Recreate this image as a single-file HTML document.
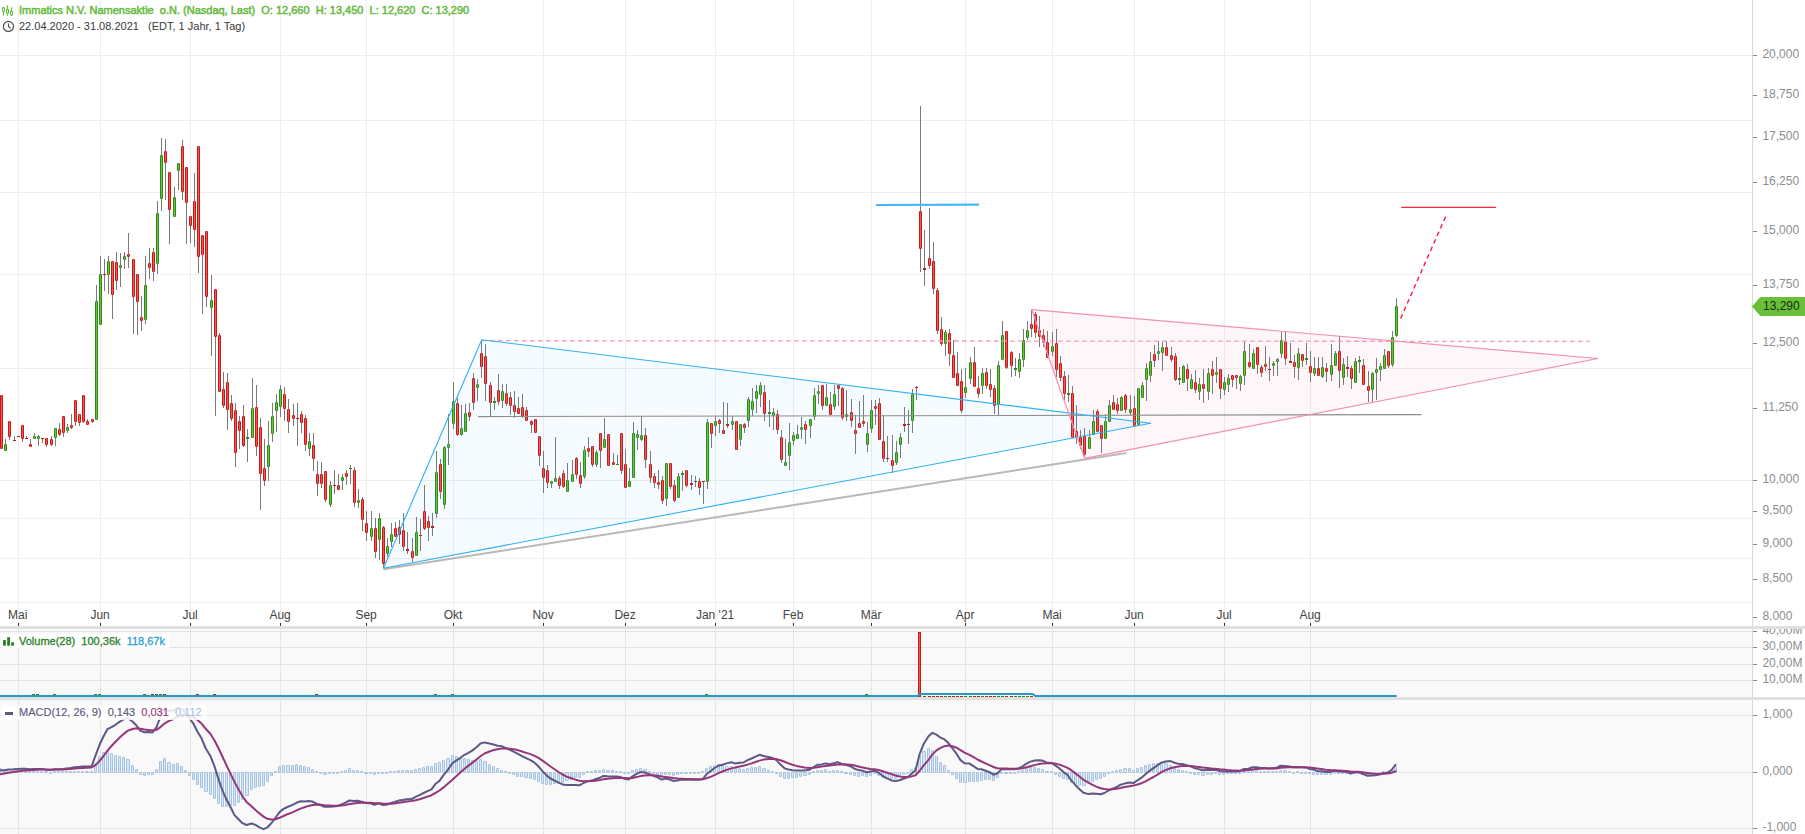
<!DOCTYPE html>
<html lang="de"><head><meta charset="utf-8"><title>Immatics N.V. Chart</title>
<style>html,body{margin:0;padding:0;background:#fff;overflow:hidden}body{width:1805px;height:834px}</style></head>
<body>
<svg width="1805" height="834" viewBox="0 0 1805 834" style="display:block;font-family:'Liberation Sans',Arial,sans-serif">
<rect width="1805" height="834" fill="#fff"/>
<rect x="0" y="629" width="1752" height="68" fill="#f9f9f9"/>
<rect x="0" y="700" width="1752" height="134" fill="#f9f9f9"/>
<g shape-rendering="crispEdges">
<rect x="18" y="0" width="1" height="626" fill="#eeeeee"/>
<rect x="18" y="629" width="1" height="68" fill="#e4e4e4"/>
<rect x="18" y="700" width="1" height="134" fill="#e4e4e4"/>
<rect x="100" y="0" width="1" height="626" fill="#eeeeee"/>
<rect x="100" y="629" width="1" height="68" fill="#e4e4e4"/>
<rect x="100" y="700" width="1" height="134" fill="#e4e4e4"/>
<rect x="190" y="0" width="1" height="626" fill="#eeeeee"/>
<rect x="190" y="629" width="1" height="68" fill="#e4e4e4"/>
<rect x="190" y="700" width="1" height="134" fill="#e4e4e4"/>
<rect x="280" y="0" width="1" height="626" fill="#eeeeee"/>
<rect x="280" y="629" width="1" height="68" fill="#e4e4e4"/>
<rect x="280" y="700" width="1" height="134" fill="#e4e4e4"/>
<rect x="366" y="0" width="1" height="626" fill="#eeeeee"/>
<rect x="366" y="629" width="1" height="68" fill="#e4e4e4"/>
<rect x="366" y="700" width="1" height="134" fill="#e4e4e4"/>
<rect x="453" y="0" width="1" height="626" fill="#eeeeee"/>
<rect x="453" y="629" width="1" height="68" fill="#e4e4e4"/>
<rect x="453" y="700" width="1" height="134" fill="#e4e4e4"/>
<rect x="543" y="0" width="1" height="626" fill="#eeeeee"/>
<rect x="543" y="629" width="1" height="68" fill="#e4e4e4"/>
<rect x="543" y="700" width="1" height="134" fill="#e4e4e4"/>
<rect x="625" y="0" width="1" height="626" fill="#eeeeee"/>
<rect x="625" y="629" width="1" height="68" fill="#e4e4e4"/>
<rect x="625" y="700" width="1" height="134" fill="#e4e4e4"/>
<rect x="715" y="0" width="1" height="626" fill="#eeeeee"/>
<rect x="715" y="629" width="1" height="68" fill="#e4e4e4"/>
<rect x="715" y="700" width="1" height="134" fill="#e4e4e4"/>
<rect x="793" y="0" width="1" height="626" fill="#eeeeee"/>
<rect x="793" y="629" width="1" height="68" fill="#e4e4e4"/>
<rect x="793" y="700" width="1" height="134" fill="#e4e4e4"/>
<rect x="871" y="0" width="1" height="626" fill="#eeeeee"/>
<rect x="871" y="629" width="1" height="68" fill="#e4e4e4"/>
<rect x="871" y="700" width="1" height="134" fill="#e4e4e4"/>
<rect x="965" y="0" width="1" height="626" fill="#eeeeee"/>
<rect x="965" y="629" width="1" height="68" fill="#e4e4e4"/>
<rect x="965" y="700" width="1" height="134" fill="#e4e4e4"/>
<rect x="1052" y="0" width="1" height="626" fill="#eeeeee"/>
<rect x="1052" y="629" width="1" height="68" fill="#e4e4e4"/>
<rect x="1052" y="700" width="1" height="134" fill="#e4e4e4"/>
<rect x="1134" y="0" width="1" height="626" fill="#eeeeee"/>
<rect x="1134" y="629" width="1" height="68" fill="#e4e4e4"/>
<rect x="1134" y="700" width="1" height="134" fill="#e4e4e4"/>
<rect x="1224" y="0" width="1" height="626" fill="#eeeeee"/>
<rect x="1224" y="629" width="1" height="68" fill="#e4e4e4"/>
<rect x="1224" y="700" width="1" height="134" fill="#e4e4e4"/>
<rect x="1310" y="0" width="1" height="626" fill="#eeeeee"/>
<rect x="1310" y="629" width="1" height="68" fill="#e4e4e4"/>
<rect x="1310" y="700" width="1" height="134" fill="#e4e4e4"/>
<rect x="0" y="55" width="1752" height="1" fill="#eeeeee"/>
<rect x="0" y="120" width="1752" height="1" fill="#eeeeee"/>
<rect x="0" y="192" width="1752" height="1" fill="#eeeeee"/>
<rect x="0" y="274" width="1752" height="1" fill="#eeeeee"/>
<rect x="0" y="368" width="1752" height="1" fill="#eeeeee"/>
<rect x="0" y="480" width="1752" height="1" fill="#eeeeee"/>
<rect x="0" y="518" width="1752" height="1" fill="#eeeeee"/>
<rect x="0" y="558" width="1752" height="1" fill="#eeeeee"/>
<rect x="0" y="602" width="1752" height="1" fill="#eeeeee"/>
<rect x="0" y="631" width="1752" height="1" fill="#e2e2e2"/>
<rect x="0" y="647" width="1752" height="1" fill="#e2e2e2"/>
<rect x="0" y="664" width="1752" height="1" fill="#e2e2e2"/>
<rect x="0" y="680" width="1752" height="1" fill="#e2e2e2"/>
<rect x="0" y="715" width="1752" height="1" fill="#e2e2e2"/>
<rect x="0" y="772" width="1752" height="1" fill="#e2e2e2"/>
<rect x="0" y="828" width="1752" height="1" fill="#e2e2e2"/>
</g>
<g shape-rendering="crispEdges" fill="#7a7a7a"><rect x="1" y="395" width="1" height="53"/><rect x="5" y="439" width="1" height="12"/><rect x="9" y="421" width="1" height="19"/><rect x="14" y="436" width="1" height="4"/><rect x="22" y="425" width="1" height="17"/><rect x="26" y="436" width="1" height="2"/><rect x="30" y="439" width="1" height="8"/><rect x="34" y="433" width="1" height="5"/><rect x="38" y="435" width="1" height="11"/><rect x="42" y="438" width="1" height="5"/><rect x="46" y="438" width="1" height="9"/><rect x="51" y="436" width="1" height="10"/><rect x="55" y="428" width="1" height="18"/><rect x="59" y="423" width="1" height="13"/><rect x="63" y="416" width="1" height="21"/><rect x="67" y="424" width="1" height="9"/><rect x="71" y="414" width="1" height="15"/><rect x="75" y="400" width="1" height="26"/><rect x="79" y="414" width="1" height="12"/><rect x="83" y="395" width="1" height="28"/><rect x="87" y="419" width="1" height="6"/><rect x="92" y="419" width="1" height="4"/><rect x="96" y="285" width="1" height="135"/><rect x="100" y="256" width="1" height="69"/><rect x="104" y="259" width="1" height="32"/><rect x="108" y="256" width="1" height="38"/><rect x="112" y="261" width="1" height="58"/><rect x="116" y="252" width="1" height="38"/><rect x="120" y="253" width="1" height="34"/><rect x="124" y="252" width="1" height="17"/><rect x="128" y="233" width="1" height="35"/><rect x="133" y="259" width="1" height="75"/><rect x="137" y="274" width="1" height="61"/><rect x="141" y="296" width="1" height="35"/><rect x="145" y="256" width="1" height="68"/><rect x="149" y="248" width="1" height="31"/><rect x="153" y="248" width="1" height="33"/><rect x="157" y="201" width="1" height="73"/><rect x="161" y="138" width="1" height="73"/><rect x="165" y="139" width="1" height="61"/><rect x="169" y="172" width="1" height="72"/><rect x="174" y="187" width="1" height="30"/><rect x="178" y="163" width="1" height="27"/><rect x="182" y="140" width="1" height="60"/><rect x="186" y="167" width="1" height="77"/><rect x="190" y="216" width="1" height="27"/><rect x="194" y="173" width="1" height="74"/><rect x="198" y="146" width="1" height="127"/><rect x="202" y="235" width="1" height="79"/><rect x="206" y="231" width="1" height="76"/><rect x="211" y="275" width="1" height="81"/><rect x="215" y="289" width="1" height="127"/><rect x="219" y="333" width="1" height="59"/><rect x="223" y="372" width="1" height="36"/><rect x="227" y="373" width="1" height="57"/><rect x="231" y="395" width="1" height="26"/><rect x="235" y="403" width="1" height="64"/><rect x="239" y="416" width="1" height="33"/><rect x="243" y="405" width="1" height="42"/><rect x="247" y="429" width="1" height="33"/><rect x="252" y="378" width="1" height="60"/><rect x="256" y="385" width="1" height="71"/><rect x="260" y="418" width="1" height="92"/><rect x="264" y="439" width="1" height="47"/><rect x="268" y="421" width="1" height="60"/><rect x="272" y="403" width="1" height="39"/><rect x="276" y="394" width="1" height="38"/><rect x="280" y="385" width="1" height="32"/><rect x="284" y="387" width="1" height="34"/><rect x="288" y="399" width="1" height="34"/><rect x="293" y="404" width="1" height="22"/><rect x="297" y="403" width="1" height="43"/><rect x="301" y="411" width="1" height="22"/><rect x="305" y="415" width="1" height="36"/><rect x="309" y="433" width="1" height="23"/><rect x="313" y="433" width="1" height="38"/><rect x="317" y="461" width="1" height="35"/><rect x="321" y="462" width="1" height="26"/><rect x="325" y="471" width="1" height="31"/><rect x="330" y="481" width="1" height="26"/><rect x="334" y="470" width="1" height="24"/><rect x="338" y="474" width="1" height="16"/><rect x="342" y="474" width="1" height="16"/><rect x="346" y="470" width="1" height="15"/><rect x="350" y="465" width="1" height="19"/><rect x="354" y="467" width="1" height="40"/><rect x="358" y="489" width="1" height="19"/><rect x="362" y="497" width="1" height="34"/><rect x="366" y="511" width="1" height="30"/><rect x="371" y="511" width="1" height="30"/><rect x="375" y="518" width="1" height="40"/><rect x="379" y="513" width="1" height="47"/><rect x="383" y="526" width="1" height="42"/><rect x="387" y="538" width="1" height="19"/><rect x="391" y="523" width="1" height="24"/><rect x="395" y="522" width="1" height="15"/><rect x="399" y="520" width="1" height="24"/><rect x="403" y="513" width="1" height="38"/><rect x="407" y="532" width="1" height="22"/><rect x="412" y="538" width="1" height="24"/><rect x="416" y="517" width="1" height="39"/><rect x="420" y="519" width="1" height="32"/><rect x="424" y="485" width="1" height="45"/><rect x="428" y="516" width="1" height="25"/><rect x="432" y="513" width="1" height="23"/><rect x="436" y="451" width="1" height="67"/><rect x="440" y="459" width="1" height="40"/><rect x="444" y="446" width="1" height="63"/><rect x="448" y="414" width="1" height="51"/><rect x="453" y="382" width="1" height="47"/><rect x="457" y="398" width="1" height="38"/><rect x="461" y="405" width="1" height="31"/><rect x="465" y="404" width="1" height="28"/><rect x="469" y="403" width="1" height="18"/><rect x="473" y="373" width="1" height="37"/><rect x="477" y="379" width="1" height="22"/><rect x="481" y="340" width="1" height="38"/><rect x="485" y="344" width="1" height="57"/><rect x="490" y="382" width="1" height="34"/><rect x="494" y="397" width="1" height="13"/><rect x="498" y="374" width="1" height="31"/><rect x="502" y="384" width="1" height="24"/><rect x="506" y="384" width="1" height="22"/><rect x="510" y="392" width="1" height="23"/><rect x="514" y="391" width="1" height="27"/><rect x="518" y="397" width="1" height="17"/><rect x="522" y="394" width="1" height="24"/><rect x="526" y="407" width="1" height="14"/><rect x="531" y="420" width="1" height="13"/><rect x="535" y="419" width="1" height="14"/><rect x="539" y="436" width="1" height="30"/><rect x="543" y="451" width="1" height="42"/><rect x="547" y="465" width="1" height="23"/><rect x="551" y="481" width="1" height="7"/><rect x="555" y="437" width="1" height="45"/><rect x="559" y="476" width="1" height="13"/><rect x="563" y="470" width="1" height="18"/><rect x="567" y="463" width="1" height="28"/><rect x="572" y="460" width="1" height="21"/><rect x="576" y="457" width="1" height="22"/><rect x="580" y="462" width="1" height="26"/><rect x="584" y="446" width="1" height="33"/><rect x="588" y="437" width="1" height="20"/><rect x="592" y="446" width="1" height="21"/><rect x="596" y="450" width="1" height="17"/><rect x="600" y="433" width="1" height="35"/><rect x="604" y="418" width="1" height="30"/><rect x="608" y="434" width="1" height="32"/><rect x="613" y="453" width="1" height="12"/><rect x="617" y="455" width="1" height="10"/><rect x="621" y="433" width="1" height="41"/><rect x="625" y="449" width="1" height="39"/><rect x="629" y="468" width="1" height="19"/><rect x="633" y="422" width="1" height="56"/><rect x="637" y="430" width="1" height="20"/><rect x="641" y="416" width="1" height="25"/><rect x="645" y="428" width="1" height="40"/><rect x="650" y="451" width="1" height="32"/><rect x="654" y="473" width="1" height="15"/><rect x="658" y="470" width="1" height="19"/><rect x="662" y="476" width="1" height="28"/><rect x="666" y="463" width="1" height="43"/><rect x="670" y="463" width="1" height="26"/><rect x="674" y="480" width="1" height="22"/><rect x="678" y="473" width="1" height="25"/><rect x="682" y="471" width="1" height="20"/><rect x="686" y="470" width="1" height="17"/><rect x="691" y="475" width="1" height="15"/><rect x="695" y="476" width="1" height="11"/><rect x="699" y="478" width="1" height="17"/><rect x="703" y="481" width="1" height="23"/><rect x="707" y="419" width="1" height="70"/><rect x="711" y="423" width="1" height="25"/><rect x="715" y="416" width="1" height="20"/><rect x="719" y="419" width="1" height="14"/><rect x="723" y="402" width="1" height="32"/><rect x="727" y="403" width="1" height="25"/><rect x="732" y="416" width="1" height="14"/><rect x="736" y="421" width="1" height="29"/><rect x="740" y="424" width="1" height="22"/><rect x="744" y="423" width="1" height="10"/><rect x="748" y="397" width="1" height="30"/><rect x="752" y="388" width="1" height="28"/><rect x="756" y="385" width="1" height="28"/><rect x="760" y="382" width="1" height="25"/><rect x="764" y="385" width="1" height="36"/><rect x="769" y="400" width="1" height="27"/><rect x="773" y="408" width="1" height="22"/><rect x="777" y="410" width="1" height="24"/><rect x="781" y="430" width="1" height="33"/><rect x="785" y="439" width="1" height="27"/><rect x="789" y="423" width="1" height="47"/><rect x="793" y="432" width="1" height="13"/><rect x="797" y="425" width="1" height="14"/><rect x="801" y="417" width="1" height="22"/><rect x="805" y="421" width="1" height="23"/><rect x="810" y="419" width="1" height="19"/><rect x="814" y="388" width="1" height="32"/><rect x="818" y="385" width="1" height="19"/><rect x="822" y="385" width="1" height="25"/><rect x="826" y="384" width="1" height="22"/><rect x="830" y="392" width="1" height="23"/><rect x="834" y="385" width="1" height="25"/><rect x="838" y="385" width="1" height="21"/><rect x="842" y="387" width="1" height="33"/><rect x="846" y="390" width="1" height="31"/><rect x="851" y="399" width="1" height="28"/><rect x="855" y="415" width="1" height="39"/><rect x="859" y="401" width="1" height="27"/><rect x="863" y="395" width="1" height="32"/><rect x="867" y="422" width="1" height="30"/><rect x="871" y="400" width="1" height="33"/><rect x="875" y="400" width="1" height="25"/><rect x="879" y="398" width="1" height="42"/><rect x="883" y="415" width="1" height="47"/><rect x="887" y="436" width="1" height="26"/><rect x="892" y="435" width="1" height="38"/><rect x="896" y="441" width="1" height="24"/><rect x="900" y="433" width="1" height="25"/><rect x="904" y="407" width="1" height="25"/><rect x="908" y="410" width="1" height="34"/><rect x="912" y="389" width="1" height="44"/><rect x="916" y="386" width="1" height="14"/><rect x="920" y="106" width="1" height="166"/><rect x="924" y="230" width="1" height="56"/><rect x="929" y="208" width="1" height="61"/><rect x="933" y="242" width="1" height="52"/><rect x="937" y="288" width="1" height="46"/><rect x="941" y="317" width="1" height="29"/><rect x="945" y="330" width="1" height="26"/><rect x="949" y="329" width="1" height="37"/><rect x="953" y="340" width="1" height="38"/><rect x="957" y="352" width="1" height="34"/><rect x="961" y="369" width="1" height="44"/><rect x="965" y="368" width="1" height="30"/><rect x="970" y="357" width="1" height="27"/><rect x="974" y="347" width="1" height="40"/><rect x="978" y="376" width="1" height="22"/><rect x="982" y="368" width="1" height="26"/><rect x="986" y="368" width="1" height="21"/><rect x="990" y="369" width="1" height="28"/><rect x="994" y="385" width="1" height="29"/><rect x="998" y="361" width="1" height="54"/><rect x="1002" y="321" width="1" height="39"/><rect x="1006" y="331" width="1" height="38"/><rect x="1011" y="351" width="1" height="26"/><rect x="1015" y="358" width="1" height="18"/><rect x="1019" y="353" width="1" height="25"/><rect x="1023" y="329" width="1" height="38"/><rect x="1027" y="321" width="1" height="19"/><rect x="1031" y="310" width="1" height="27"/><rect x="1035" y="312" width="1" height="26"/><rect x="1039" y="316" width="1" height="31"/><rect x="1043" y="329" width="1" height="18"/><rect x="1047" y="331" width="1" height="27"/><rect x="1052" y="332" width="1" height="24"/><rect x="1056" y="329" width="1" height="48"/><rect x="1060" y="356" width="1" height="25"/><rect x="1064" y="371" width="1" height="29"/><rect x="1068" y="375" width="1" height="27"/><rect x="1072" y="386" width="1" height="52"/><rect x="1076" y="405" width="1" height="39"/><rect x="1080" y="430" width="1" height="19"/><rect x="1084" y="428" width="1" height="30"/><rect x="1089" y="430" width="1" height="18"/><rect x="1093" y="410" width="1" height="24"/><rect x="1097" y="409" width="1" height="23"/><rect x="1101" y="425" width="1" height="28"/><rect x="1105" y="414" width="1" height="24"/><rect x="1109" y="400" width="1" height="21"/><rect x="1113" y="395" width="1" height="14"/><rect x="1117" y="398" width="1" height="16"/><rect x="1121" y="396" width="1" height="15"/><rect x="1125" y="394" width="1" height="19"/><rect x="1130" y="395" width="1" height="20"/><rect x="1134" y="396" width="1" height="31"/><rect x="1138" y="388" width="1" height="37"/><rect x="1142" y="382" width="1" height="16"/><rect x="1146" y="363" width="1" height="38"/><rect x="1150" y="352" width="1" height="30"/><rect x="1154" y="345" width="1" height="22"/><rect x="1158" y="341" width="1" height="19"/><rect x="1162" y="342" width="1" height="29"/><rect x="1166" y="341" width="1" height="15"/><rect x="1171" y="347" width="1" height="15"/><rect x="1175" y="353" width="1" height="28"/><rect x="1179" y="367" width="1" height="18"/><rect x="1183" y="365" width="1" height="18"/><rect x="1187" y="364" width="1" height="27"/><rect x="1191" y="374" width="1" height="15"/><rect x="1195" y="370" width="1" height="23"/><rect x="1199" y="378" width="1" height="22"/><rect x="1203" y="369" width="1" height="34"/><rect x="1208" y="368" width="1" height="32"/><rect x="1212" y="361" width="1" height="33"/><rect x="1216" y="357" width="1" height="26"/><rect x="1220" y="369" width="1" height="30"/><rect x="1224" y="377" width="1" height="18"/><rect x="1228" y="374" width="1" height="18"/><rect x="1232" y="375" width="1" height="12"/><rect x="1236" y="375" width="1" height="14"/><rect x="1240" y="375" width="1" height="16"/><rect x="1244" y="342" width="1" height="43"/><rect x="1249" y="344" width="1" height="24"/><rect x="1253" y="349" width="1" height="19"/><rect x="1257" y="347" width="1" height="27"/><rect x="1261" y="365" width="1" height="12"/><rect x="1265" y="346" width="1" height="25"/><rect x="1269" y="357" width="1" height="24"/><rect x="1273" y="361" width="1" height="15"/><rect x="1277" y="358" width="1" height="18"/><rect x="1281" y="332" width="1" height="26"/><rect x="1285" y="332" width="1" height="33"/><rect x="1290" y="343" width="1" height="20"/><rect x="1294" y="355" width="1" height="23"/><rect x="1298" y="348" width="1" height="32"/><rect x="1302" y="354" width="1" height="13"/><rect x="1306" y="343" width="1" height="22"/><rect x="1310" y="351" width="1" height="31"/><rect x="1314" y="357" width="1" height="19"/><rect x="1318" y="357" width="1" height="19"/><rect x="1322" y="357" width="1" height="21"/><rect x="1326" y="363" width="1" height="19"/><rect x="1331" y="344" width="1" height="37"/><rect x="1335" y="351" width="1" height="15"/><rect x="1339" y="336" width="1" height="52"/><rect x="1343" y="358" width="1" height="27"/><rect x="1347" y="356" width="1" height="21"/><rect x="1351" y="366" width="1" height="23"/><rect x="1355" y="358" width="1" height="25"/><rect x="1359" y="356" width="1" height="17"/><rect x="1363" y="359" width="1" height="26"/><rect x="1368" y="371" width="1" height="31"/><rect x="1372" y="372" width="1" height="30"/><rect x="1376" y="358" width="1" height="42"/><rect x="1380" y="363" width="1" height="18"/><rect x="1384" y="349" width="1" height="20"/><rect x="1388" y="351" width="1" height="17"/><rect x="1392" y="331" width="1" height="36"/><rect x="1396" y="298" width="1" height="39"/></g>
<g><rect x="0.5" y="395.5" width="2" height="53" rx=".25" fill="#f05858" stroke="#c51b14"/><rect x="4.5" y="444.5" width="2" height="6" rx=".25" fill="#6cc530" stroke="#2d8a1e"/><rect x="8.5" y="421.5" width="2" height="15" rx=".25" fill="#f05858" stroke="#c51b14"/><rect x="13" y="440" width="3" height="1" fill="#c51b14" shape-rendering="crispEdges"/><rect x="17" y="436" width="3" height="1" fill="#c51b14" shape-rendering="crispEdges"/><rect x="21.5" y="425.5" width="2" height="13" rx=".25" fill="#f05858" stroke="#c51b14"/><rect x="25" y="438" width="3" height="1" fill="#c51b14" shape-rendering="crispEdges"/><rect x="29.5" y="444.5" width="2" height="2" rx=".25" fill="#f05858" stroke="#c51b14"/><rect x="33.5" y="436.5" width="2" height="2" rx=".25" fill="#6cc530" stroke="#2d8a1e"/><rect x="37.5" y="436.5" width="2" height="2" rx=".25" fill="#6cc530" stroke="#2d8a1e"/><rect x="41" y="438" width="3" height="1" fill="#c51b14" shape-rendering="crispEdges"/><rect x="45.5" y="438.5" width="2" height="6" rx=".25" fill="#f05858" stroke="#c51b14"/><rect x="50.5" y="439.5" width="2" height="5" rx=".25" fill="#f05858" stroke="#c51b14"/><rect x="54.5" y="428.5" width="2" height="9" rx=".25" fill="#6cc530" stroke="#2d8a1e"/><rect x="58.5" y="429.5" width="2" height="5" rx=".25" fill="#f05858" stroke="#c51b14"/><rect x="62.5" y="416.5" width="2" height="16" rx=".25" fill="#f05858" stroke="#c51b14"/><rect x="66.5" y="427.5" width="2" height="3" rx=".25" fill="#6cc530" stroke="#2d8a1e"/><rect x="70.5" y="425.5" width="2" height="2" rx=".25" fill="#f05858" stroke="#c51b14"/><rect x="74.5" y="400.5" width="2" height="21" rx=".25" fill="#f05858" stroke="#c51b14"/><rect x="78.5" y="414.5" width="2" height="8" rx=".25" fill="#f05858" stroke="#c51b14"/><rect x="82.5" y="395.5" width="2" height="26" rx=".25" fill="#f05858" stroke="#c51b14"/><rect x="86.5" y="421.5" width="2" height="3" rx=".25" fill="#f05858" stroke="#c51b14"/><rect x="91.5" y="419.5" width="2" height="2" rx=".25" fill="#f05858" stroke="#c51b14"/><rect x="95.5" y="301.5" width="2" height="118" rx=".25" fill="#6cc530" stroke="#2d8a1e"/><rect x="99.5" y="274.5" width="2" height="50" rx=".25" fill="#6cc530" stroke="#2d8a1e"/><rect x="103" y="274" width="3" height="1" fill="#c51b14" shape-rendering="crispEdges"/><rect x="107.5" y="261.5" width="2" height="13" rx=".25" fill="#6cc530" stroke="#2d8a1e"/><rect x="111.5" y="261.5" width="2" height="33" rx=".25" fill="#f05858" stroke="#c51b14"/><rect x="115.5" y="262.5" width="2" height="18" rx=".25" fill="#f05858" stroke="#c51b14"/><rect x="119.5" y="265.5" width="2" height="2" rx=".25" fill="#6cc530" stroke="#2d8a1e"/><rect x="123.5" y="256.5" width="2" height="3" rx=".25" fill="#6cc530" stroke="#2d8a1e"/><rect x="127.5" y="254.5" width="2" height="2" rx=".25" fill="#f05858" stroke="#c51b14"/><rect x="132.5" y="259.5" width="2" height="37" rx=".25" fill="#f05858" stroke="#c51b14"/><rect x="136.5" y="274.5" width="2" height="27" rx=".25" fill="#f05858" stroke="#c51b14"/><rect x="140.5" y="317.5" width="2" height="3" rx=".25" fill="#f05858" stroke="#c51b14"/><rect x="144.5" y="285.5" width="2" height="34" rx=".25" fill="#6cc530" stroke="#2d8a1e"/><rect x="148.5" y="263.5" width="2" height="4" rx=".25" fill="#f05858" stroke="#c51b14"/><rect x="152.5" y="252.5" width="2" height="19" rx=".25" fill="#f05858" stroke="#c51b14"/><rect x="156.5" y="213.5" width="2" height="50" rx=".25" fill="#6cc530" stroke="#2d8a1e"/><rect x="160.5" y="155.5" width="2" height="43" rx=".25" fill="#6cc530" stroke="#2d8a1e"/><rect x="164.5" y="151.5" width="2" height="11" rx=".25" fill="#f05858" stroke="#c51b14"/><rect x="168.5" y="172.5" width="2" height="37" rx=".25" fill="#f05858" stroke="#c51b14"/><rect x="173.5" y="197.5" width="2" height="19" rx=".25" fill="#6cc530" stroke="#2d8a1e"/><rect x="177.5" y="163.5" width="2" height="7" rx=".25" fill="#6cc530" stroke="#2d8a1e"/><rect x="181.5" y="146.5" width="2" height="45" rx=".25" fill="#f05858" stroke="#c51b14"/><rect x="185.5" y="167.5" width="2" height="35" rx=".25" fill="#f05858" stroke="#c51b14"/><rect x="189.5" y="216.5" width="2" height="9" rx=".25" fill="#f05858" stroke="#c51b14"/><rect x="193.5" y="201.5" width="2" height="28" rx=".25" fill="#f05858" stroke="#c51b14"/><rect x="197.5" y="146.5" width="2" height="110" rx=".25" fill="#f05858" stroke="#c51b14"/><rect x="201.5" y="235.5" width="2" height="19" rx=".25" fill="#f05858" stroke="#c51b14"/><rect x="205.5" y="231.5" width="2" height="65" rx=".25" fill="#f05858" stroke="#c51b14"/><rect x="210.5" y="300.5" width="2" height="7" rx=".25" fill="#6cc530" stroke="#2d8a1e"/><rect x="214.5" y="289.5" width="2" height="47" rx=".25" fill="#f05858" stroke="#c51b14"/><rect x="218.5" y="335.5" width="2" height="56" rx=".25" fill="#f05858" stroke="#c51b14"/><rect x="222.5" y="389.5" width="2" height="16" rx=".25" fill="#f05858" stroke="#c51b14"/><rect x="226.5" y="382.5" width="2" height="27" rx=".25" fill="#f05858" stroke="#c51b14"/><rect x="230.5" y="403.5" width="2" height="15" rx=".25" fill="#f05858" stroke="#c51b14"/><rect x="234.5" y="410.5" width="2" height="42" rx=".25" fill="#f05858" stroke="#c51b14"/><rect x="238.5" y="421.5" width="2" height="9" rx=".25" fill="#f05858" stroke="#c51b14"/><rect x="242.5" y="416.5" width="2" height="29" rx=".25" fill="#f05858" stroke="#c51b14"/><rect x="246" y="437" width="3" height="2" fill="#2d8a1e" shape-rendering="crispEdges"/><rect x="251.5" y="408.5" width="2" height="29" rx=".25" fill="#6cc530" stroke="#2d8a1e"/><rect x="255.5" y="407.5" width="2" height="39" rx=".25" fill="#f05858" stroke="#c51b14"/><rect x="259.5" y="427.5" width="2" height="46" rx=".25" fill="#f05858" stroke="#c51b14"/><rect x="263.5" y="468.5" width="2" height="12" rx=".25" fill="#f05858" stroke="#c51b14"/><rect x="267.5" y="445.5" width="2" height="21" rx=".25" fill="#6cc530" stroke="#2d8a1e"/><rect x="271.5" y="416.5" width="2" height="17" rx=".25" fill="#6cc530" stroke="#2d8a1e"/><rect x="275.5" y="402.5" width="2" height="8" rx=".25" fill="#6cc530" stroke="#2d8a1e"/><rect x="279.5" y="389.5" width="2" height="17" rx=".25" fill="#6cc530" stroke="#2d8a1e"/><rect x="283.5" y="394.5" width="2" height="14" rx=".25" fill="#f05858" stroke="#c51b14"/><rect x="287.5" y="409.5" width="2" height="12" rx=".25" fill="#f05858" stroke="#c51b14"/><rect x="292.5" y="415.5" width="2" height="3" rx=".25" fill="#f05858" stroke="#c51b14"/><rect x="296" y="418" width="3" height="1" fill="#c51b14" shape-rendering="crispEdges"/><rect x="300.5" y="414.5" width="2" height="8" rx=".25" fill="#f05858" stroke="#c51b14"/><rect x="304.5" y="418.5" width="2" height="26" rx=".25" fill="#f05858" stroke="#c51b14"/><rect x="308.5" y="441.5" width="2" height="7" rx=".25" fill="#6cc530" stroke="#2d8a1e"/><rect x="312.5" y="445.5" width="2" height="13" rx=".25" fill="#f05858" stroke="#c51b14"/><rect x="316.5" y="474.5" width="2" height="9" rx=".25" fill="#f05858" stroke="#c51b14"/><rect x="320.5" y="474.5" width="2" height="9" rx=".25" fill="#f05858" stroke="#c51b14"/><rect x="324.5" y="471.5" width="2" height="28" rx=".25" fill="#f05858" stroke="#c51b14"/><rect x="329.5" y="485.5" width="2" height="19" rx=".25" fill="#6cc530" stroke="#2d8a1e"/><rect x="333" y="485" width="3" height="1" fill="#c51b14" shape-rendering="crispEdges"/><rect x="337.5" y="485.5" width="2" height="4" rx=".25" fill="#f05858" stroke="#c51b14"/><rect x="341.5" y="477.5" width="2" height="3" rx=".25" fill="#6cc530" stroke="#2d8a1e"/><rect x="345.5" y="473.5" width="2" height="3" rx=".25" fill="#f05858" stroke="#c51b14"/><rect x="349" y="468" width="3" height="1" fill="#2d8a1e" shape-rendering="crispEdges"/><rect x="353.5" y="470.5" width="2" height="32" rx=".25" fill="#f05858" stroke="#c51b14"/><rect x="357.5" y="500.5" width="2" height="2" rx=".25" fill="#6cc530" stroke="#2d8a1e"/><rect x="361.5" y="499.5" width="2" height="20" rx=".25" fill="#f05858" stroke="#c51b14"/><rect x="365.5" y="523.5" width="2" height="9" rx=".25" fill="#f05858" stroke="#c51b14"/><rect x="370.5" y="528.5" width="2" height="8" rx=".25" fill="#6cc530" stroke="#2d8a1e"/><rect x="374.5" y="528.5" width="2" height="23" rx=".25" fill="#f05858" stroke="#c51b14"/><rect x="378.5" y="518.5" width="2" height="21" rx=".25" fill="#6cc530" stroke="#2d8a1e"/><rect x="382.5" y="527.5" width="2" height="36" rx=".25" fill="#f05858" stroke="#c51b14"/><rect x="386.5" y="546.5" width="2" height="7" rx=".25" fill="#6cc530" stroke="#2d8a1e"/><rect x="390.5" y="534.5" width="2" height="7" rx=".25" fill="#6cc530" stroke="#2d8a1e"/><rect x="394.5" y="528.5" width="2" height="8" rx=".25" fill="#f05858" stroke="#c51b14"/><rect x="398.5" y="527.5" width="2" height="7" rx=".25" fill="#f05858" stroke="#c51b14"/><rect x="402.5" y="530.5" width="2" height="16" rx=".25" fill="#f05858" stroke="#c51b14"/><rect x="406" y="549" width="3" height="2" fill="#c51b14" shape-rendering="crispEdges"/><rect x="411.5" y="551.5" width="2" height="6" rx=".25" fill="#f05858" stroke="#c51b14"/><rect x="415.5" y="532.5" width="2" height="23" rx=".25" fill="#6cc530" stroke="#2d8a1e"/><rect x="419" y="535" width="3" height="1" fill="#c51b14" shape-rendering="crispEdges"/><rect x="423.5" y="511.5" width="2" height="17" rx=".25" fill="#f05858" stroke="#c51b14"/><rect x="427.5" y="521.5" width="2" height="6" rx=".25" fill="#f05858" stroke="#c51b14"/><rect x="431" y="526" width="3" height="2" fill="#c51b14" shape-rendering="crispEdges"/><rect x="435.5" y="472.5" width="2" height="41" rx=".25" fill="#6cc530" stroke="#2d8a1e"/><rect x="439.5" y="464.5" width="2" height="27" rx=".25" fill="#f05858" stroke="#c51b14"/><rect x="443.5" y="447.5" width="2" height="57" rx=".25" fill="#6cc530" stroke="#2d8a1e"/><rect x="447.5" y="444.5" width="2" height="3" rx=".25" fill="#6cc530" stroke="#2d8a1e"/><rect x="452.5" y="401.5" width="2" height="22" rx=".25" fill="#6cc530" stroke="#2d8a1e"/><rect x="456.5" y="403.5" width="2" height="31" rx=".25" fill="#f05858" stroke="#c51b14"/><rect x="460.5" y="428.5" width="2" height="6" rx=".25" fill="#6cc530" stroke="#2d8a1e"/><rect x="464.5" y="413.5" width="2" height="18" rx=".25" fill="#6cc530" stroke="#2d8a1e"/><rect x="468.5" y="412.5" width="2" height="4" rx=".25" fill="#f05858" stroke="#c51b14"/><rect x="472.5" y="378.5" width="2" height="24" rx=".25" fill="#f05858" stroke="#c51b14"/><rect x="476.5" y="384.5" width="2" height="3" rx=".25" fill="#6cc530" stroke="#2d8a1e"/><rect x="480.5" y="353.5" width="2" height="13" rx=".25" fill="#f05858" stroke="#c51b14"/><rect x="484.5" y="356.5" width="2" height="27" rx=".25" fill="#f05858" stroke="#c51b14"/><rect x="489.5" y="385.5" width="2" height="17" rx=".25" fill="#f05858" stroke="#c51b14"/><rect x="493" y="401" width="3" height="2" fill="#2d8a1e" shape-rendering="crispEdges"/><rect x="497.5" y="390.5" width="2" height="11" rx=".25" fill="#f05858" stroke="#c51b14"/><rect x="501.5" y="391.5" width="2" height="9" rx=".25" fill="#6cc530" stroke="#2d8a1e"/><rect x="505.5" y="393.5" width="2" height="10" rx=".25" fill="#f05858" stroke="#c51b14"/><rect x="509.5" y="397.5" width="2" height="8" rx=".25" fill="#f05858" stroke="#c51b14"/><rect x="513.5" y="405.5" width="2" height="6" rx=".25" fill="#f05858" stroke="#c51b14"/><rect x="517.5" y="408.5" width="2" height="5" rx=".25" fill="#f05858" stroke="#c51b14"/><rect x="521.5" y="407.5" width="2" height="9" rx=".25" fill="#f05858" stroke="#c51b14"/><rect x="525.5" y="410.5" width="2" height="10" rx=".25" fill="#f05858" stroke="#c51b14"/><rect x="530.5" y="421.5" width="2" height="3" rx=".25" fill="#f05858" stroke="#c51b14"/><rect x="534.5" y="419.5" width="2" height="13" rx=".25" fill="#f05858" stroke="#c51b14"/><rect x="538.5" y="436.5" width="2" height="19" rx=".25" fill="#f05858" stroke="#c51b14"/><rect x="542.5" y="468.5" width="2" height="9" rx=".25" fill="#f05858" stroke="#c51b14"/><rect x="546.5" y="470.5" width="2" height="12" rx=".25" fill="#f05858" stroke="#c51b14"/><rect x="550.5" y="481.5" width="2" height="2" rx=".25" fill="#6cc530" stroke="#2d8a1e"/><rect x="554.5" y="478.5" width="2" height="3" rx=".25" fill="#6cc530" stroke="#2d8a1e"/><rect x="558.5" y="478.5" width="2" height="7" rx=".25" fill="#f05858" stroke="#c51b14"/><rect x="562.5" y="473.5" width="2" height="13" rx=".25" fill="#f05858" stroke="#c51b14"/><rect x="566.5" y="480.5" width="2" height="11" rx=".25" fill="#6cc530" stroke="#2d8a1e"/><rect x="571.5" y="474.5" width="2" height="7" rx=".25" fill="#6cc530" stroke="#2d8a1e"/><rect x="575.5" y="458.5" width="2" height="16" rx=".25" fill="#f05858" stroke="#c51b14"/><rect x="579.5" y="475.5" width="2" height="8" rx=".25" fill="#f05858" stroke="#c51b14"/><rect x="583.5" y="450.5" width="2" height="26" rx=".25" fill="#6cc530" stroke="#2d8a1e"/><rect x="587.5" y="448.5" width="2" height="3" rx=".25" fill="#f05858" stroke="#c51b14"/><rect x="591.5" y="446.5" width="2" height="18" rx=".25" fill="#f05858" stroke="#c51b14"/><rect x="595.5" y="452.5" width="2" height="12" rx=".25" fill="#6cc530" stroke="#2d8a1e"/><rect x="599.5" y="433.5" width="2" height="17" rx=".25" fill="#f05858" stroke="#c51b14"/><rect x="603.5" y="439.5" width="2" height="8" rx=".25" fill="#6cc530" stroke="#2d8a1e"/><rect x="607.5" y="434.5" width="2" height="31" rx=".25" fill="#f05858" stroke="#c51b14"/><rect x="612.5" y="462.5" width="2" height="2" rx=".25" fill="#f05858" stroke="#c51b14"/><rect x="616" y="464" width="3" height="1" fill="#2d8a1e" shape-rendering="crispEdges"/><rect x="620.5" y="433.5" width="2" height="37" rx=".25" fill="#f05858" stroke="#c51b14"/><rect x="624.5" y="464.5" width="2" height="23" rx=".25" fill="#f05858" stroke="#c51b14"/><rect x="628.5" y="481.5" width="2" height="5" rx=".25" fill="#6cc530" stroke="#2d8a1e"/><rect x="632.5" y="433.5" width="2" height="44" rx=".25" fill="#6cc530" stroke="#2d8a1e"/><rect x="636.5" y="434.5" width="2" height="3" rx=".25" fill="#6cc530" stroke="#2d8a1e"/><rect x="640.5" y="435.5" width="2" height="4" rx=".25" fill="#6cc530" stroke="#2d8a1e"/><rect x="644.5" y="435.5" width="2" height="24" rx=".25" fill="#f05858" stroke="#c51b14"/><rect x="649.5" y="464.5" width="2" height="13" rx=".25" fill="#f05858" stroke="#c51b14"/><rect x="653.5" y="476.5" width="2" height="6" rx=".25" fill="#f05858" stroke="#c51b14"/><rect x="657.5" y="482.5" width="2" height="2" rx=".25" fill="#f05858" stroke="#c51b14"/><rect x="661.5" y="480.5" width="2" height="20" rx=".25" fill="#f05858" stroke="#c51b14"/><rect x="665.5" y="463.5" width="2" height="35" rx=".25" fill="#6cc530" stroke="#2d8a1e"/><rect x="669.5" y="463.5" width="2" height="23" rx=".25" fill="#f05858" stroke="#c51b14"/><rect x="673.5" y="485.5" width="2" height="15" rx=".25" fill="#f05858" stroke="#c51b14"/><rect x="677.5" y="476.5" width="2" height="21" rx=".25" fill="#6cc530" stroke="#2d8a1e"/><rect x="681" y="473" width="3" height="2" fill="#2d8a1e" shape-rendering="crispEdges"/><rect x="685.5" y="470.5" width="2" height="15" rx=".25" fill="#f05858" stroke="#c51b14"/><rect x="690" y="483" width="3" height="2" fill="#c51b14" shape-rendering="crispEdges"/><rect x="694" y="481" width="3" height="1" fill="#2d8a1e" shape-rendering="crispEdges"/><rect x="698.5" y="481.5" width="2" height="6" rx=".25" fill="#f05858" stroke="#c51b14"/><rect x="702" y="481" width="3" height="1" fill="#c51b14" shape-rendering="crispEdges"/><rect x="706.5" y="422.5" width="2" height="59" rx=".25" fill="#6cc530" stroke="#2d8a1e"/><rect x="710.5" y="423.5" width="2" height="10" rx=".25" fill="#f05858" stroke="#c51b14"/><rect x="714.5" y="421.5" width="2" height="4" rx=".25" fill="#6cc530" stroke="#2d8a1e"/><rect x="718.5" y="420.5" width="2" height="3" rx=".25" fill="#f05858" stroke="#c51b14"/><rect x="722.5" y="430.5" width="2" height="3" rx=".25" fill="#f05858" stroke="#c51b14"/><rect x="726" y="424" width="3" height="2" fill="#c51b14" shape-rendering="crispEdges"/><rect x="731.5" y="421.5" width="2" height="3" rx=".25" fill="#6cc530" stroke="#2d8a1e"/><rect x="735.5" y="421.5" width="2" height="28" rx=".25" fill="#f05858" stroke="#c51b14"/><rect x="739.5" y="424.5" width="2" height="15" rx=".25" fill="#6cc530" stroke="#2d8a1e"/><rect x="743.5" y="424.5" width="2" height="3" rx=".25" fill="#f05858" stroke="#c51b14"/><rect x="747.5" y="399.5" width="2" height="21" rx=".25" fill="#6cc530" stroke="#2d8a1e"/><rect x="751.5" y="401.5" width="2" height="8" rx=".25" fill="#6cc530" stroke="#2d8a1e"/><rect x="755.5" y="391.5" width="2" height="7" rx=".25" fill="#6cc530" stroke="#2d8a1e"/><rect x="759.5" y="385.5" width="2" height="9" rx=".25" fill="#6cc530" stroke="#2d8a1e"/><rect x="763.5" y="392.5" width="2" height="21" rx=".25" fill="#f05858" stroke="#c51b14"/><rect x="768" y="412" width="3" height="2" fill="#2d8a1e" shape-rendering="crispEdges"/><rect x="772.5" y="412.5" width="2" height="3" rx=".25" fill="#6cc530" stroke="#2d8a1e"/><rect x="776.5" y="414.5" width="2" height="15" rx=".25" fill="#f05858" stroke="#c51b14"/><rect x="780.5" y="437.5" width="2" height="22" rx=".25" fill="#f05858" stroke="#c51b14"/><rect x="784.5" y="462.5" width="2" height="3" rx=".25" fill="#6cc530" stroke="#2d8a1e"/><rect x="788.5" y="442.5" width="2" height="13" rx=".25" fill="#6cc530" stroke="#2d8a1e"/><rect x="792.5" y="435.5" width="2" height="5" rx=".25" fill="#6cc530" stroke="#2d8a1e"/><rect x="796.5" y="434.5" width="2" height="4" rx=".25" fill="#6cc530" stroke="#2d8a1e"/><rect x="800.5" y="427.5" width="2" height="2" rx=".25" fill="#6cc530" stroke="#2d8a1e"/><rect x="804.5" y="424.5" width="2" height="5" rx=".25" fill="#f05858" stroke="#c51b14"/><rect x="809.5" y="419.5" width="2" height="6" rx=".25" fill="#6cc530" stroke="#2d8a1e"/><rect x="813.5" y="395.5" width="2" height="21" rx=".25" fill="#6cc530" stroke="#2d8a1e"/><rect x="817.5" y="391.5" width="2" height="2" rx=".25" fill="#6cc530" stroke="#2d8a1e"/><rect x="821.5" y="385.5" width="2" height="20" rx=".25" fill="#f05858" stroke="#c51b14"/><rect x="825.5" y="397.5" width="2" height="8" rx=".25" fill="#6cc530" stroke="#2d8a1e"/><rect x="829.5" y="404.5" width="2" height="10" rx=".25" fill="#f05858" stroke="#c51b14"/><rect x="833.5" y="394.5" width="2" height="12" rx=".25" fill="#6cc530" stroke="#2d8a1e"/><rect x="837.5" y="385.5" width="2" height="3" rx=".25" fill="#f05858" stroke="#c51b14"/><rect x="841.5" y="388.5" width="2" height="29" rx=".25" fill="#f05858" stroke="#c51b14"/><rect x="845.5" y="414.5" width="2" height="2" rx=".25" fill="#6cc530" stroke="#2d8a1e"/><rect x="850.5" y="412.5" width="2" height="8" rx=".25" fill="#f05858" stroke="#c51b14"/><rect x="854.5" y="430.5" width="2" height="3" rx=".25" fill="#f05858" stroke="#c51b14"/><rect x="858.5" y="423.5" width="2" height="4" rx=".25" fill="#f05858" stroke="#c51b14"/><rect x="862.5" y="421.5" width="2" height="2" rx=".25" fill="#f05858" stroke="#c51b14"/><rect x="866.5" y="433.5" width="2" height="11" rx=".25" fill="#6cc530" stroke="#2d8a1e"/><rect x="870.5" y="410.5" width="2" height="18" rx=".25" fill="#6cc530" stroke="#2d8a1e"/><rect x="874.5" y="406.5" width="2" height="2" rx=".25" fill="#f05858" stroke="#c51b14"/><rect x="878.5" y="403.5" width="2" height="36" rx=".25" fill="#f05858" stroke="#c51b14"/><rect x="882.5" y="441.5" width="2" height="17" rx=".25" fill="#f05858" stroke="#c51b14"/><rect x="886" y="458" width="3" height="1" fill="#c51b14" shape-rendering="crispEdges"/><rect x="891.5" y="460.5" width="2" height="5" rx=".25" fill="#f05858" stroke="#c51b14"/><rect x="895.5" y="452.5" width="2" height="10" rx=".25" fill="#6cc530" stroke="#2d8a1e"/><rect x="899.5" y="437.5" width="2" height="7" rx=".25" fill="#6cc530" stroke="#2d8a1e"/><rect x="903" y="424" width="3" height="2" fill="#c51b14" shape-rendering="crispEdges"/><rect x="907" y="424" width="3" height="1" fill="#c51b14" shape-rendering="crispEdges"/><rect x="911.5" y="394.5" width="2" height="26" rx=".25" fill="#6cc530" stroke="#2d8a1e"/><rect x="915" y="387" width="3" height="1" fill="#c51b14" shape-rendering="crispEdges"/><rect x="919.5" y="211.5" width="2" height="37" rx=".25" fill="#f05858" stroke="#c51b14"/><rect x="923" y="268" width="3" height="2" fill="#c51b14" shape-rendering="crispEdges"/><rect x="928.5" y="258.5" width="2" height="7" rx=".25" fill="#f05858" stroke="#c51b14"/><rect x="932.5" y="261.5" width="2" height="27" rx=".25" fill="#f05858" stroke="#c51b14"/><rect x="936.5" y="290.5" width="2" height="40" rx=".25" fill="#f05858" stroke="#c51b14"/><rect x="940.5" y="329.5" width="2" height="14" rx=".25" fill="#f05858" stroke="#c51b14"/><rect x="944.5" y="332.5" width="2" height="11" rx=".25" fill="#6cc530" stroke="#2d8a1e"/><rect x="948.5" y="333.5" width="2" height="20" rx=".25" fill="#f05858" stroke="#c51b14"/><rect x="952.5" y="355.5" width="2" height="22" rx=".25" fill="#f05858" stroke="#c51b14"/><rect x="956.5" y="373.5" width="2" height="12" rx=".25" fill="#f05858" stroke="#c51b14"/><rect x="960.5" y="381.5" width="2" height="29" rx=".25" fill="#f05858" stroke="#c51b14"/><rect x="964.5" y="387.5" width="2" height="5" rx=".25" fill="#6cc530" stroke="#2d8a1e"/><rect x="969.5" y="362.5" width="2" height="16" rx=".25" fill="#6cc530" stroke="#2d8a1e"/><rect x="973.5" y="362.5" width="2" height="24" rx=".25" fill="#f05858" stroke="#c51b14"/><rect x="977.5" y="388.5" width="2" height="5" rx=".25" fill="#f05858" stroke="#c51b14"/><rect x="981.5" y="373.5" width="2" height="12" rx=".25" fill="#6cc530" stroke="#2d8a1e"/><rect x="985.5" y="372.5" width="2" height="13" rx=".25" fill="#f05858" stroke="#c51b14"/><rect x="989.5" y="384.5" width="2" height="5" rx=".25" fill="#f05858" stroke="#c51b14"/><rect x="993.5" y="388.5" width="2" height="17" rx=".25" fill="#f05858" stroke="#c51b14"/><rect x="997.5" y="365.5" width="2" height="39" rx=".25" fill="#6cc530" stroke="#2d8a1e"/><rect x="1001.5" y="335.5" width="2" height="24" rx=".25" fill="#6cc530" stroke="#2d8a1e"/><rect x="1005.5" y="331.5" width="2" height="36" rx=".25" fill="#f05858" stroke="#c51b14"/><rect x="1010.5" y="352.5" width="2" height="13" rx=".25" fill="#f05858" stroke="#c51b14"/><rect x="1014" y="368" width="3" height="2" fill="#2d8a1e" shape-rendering="crispEdges"/><rect x="1018.5" y="359.5" width="2" height="12" rx=".25" fill="#6cc530" stroke="#2d8a1e"/><rect x="1022.5" y="340.5" width="2" height="19" rx=".25" fill="#6cc530" stroke="#2d8a1e"/><rect x="1026.5" y="330.5" width="2" height="7" rx=".25" fill="#6cc530" stroke="#2d8a1e"/><rect x="1030.5" y="324.5" width="2" height="4" rx=".25" fill="#f05858" stroke="#c51b14"/><rect x="1034.5" y="314.5" width="2" height="18" rx=".25" fill="#f05858" stroke="#c51b14"/><rect x="1038.5" y="330.5" width="2" height="6" rx=".25" fill="#f05858" stroke="#c51b14"/><rect x="1042.5" y="335.5" width="2" height="7" rx=".25" fill="#f05858" stroke="#c51b14"/><rect x="1046.5" y="342.5" width="2" height="15" rx=".25" fill="#f05858" stroke="#c51b14"/><rect x="1051.5" y="346.5" width="2" height="5" rx=".25" fill="#6cc530" stroke="#2d8a1e"/><rect x="1055.5" y="343.5" width="2" height="26" rx=".25" fill="#f05858" stroke="#c51b14"/><rect x="1059.5" y="363.5" width="2" height="14" rx=".25" fill="#f05858" stroke="#c51b14"/><rect x="1063.5" y="376.5" width="2" height="17" rx=".25" fill="#f05858" stroke="#c51b14"/><rect x="1067" y="393" width="3" height="2" fill="#2d8a1e" shape-rendering="crispEdges"/><rect x="1071.5" y="393.5" width="2" height="44" rx=".25" fill="#f05858" stroke="#c51b14"/><rect x="1075.5" y="431.5" width="2" height="6" rx=".25" fill="#f05858" stroke="#c51b14"/><rect x="1079.5" y="437.5" width="2" height="8" rx=".25" fill="#f05858" stroke="#c51b14"/><rect x="1083.5" y="436.5" width="2" height="18" rx=".25" fill="#f05858" stroke="#c51b14"/><rect x="1088.5" y="437.5" width="2" height="11" rx=".25" fill="#6cc530" stroke="#2d8a1e"/><rect x="1092.5" y="421.5" width="2" height="13" rx=".25" fill="#6cc530" stroke="#2d8a1e"/><rect x="1096.5" y="411.5" width="2" height="20" rx=".25" fill="#f05858" stroke="#c51b14"/><rect x="1100.5" y="425.5" width="2" height="13" rx=".25" fill="#f05858" stroke="#c51b14"/><rect x="1104.5" y="421.5" width="2" height="17" rx=".25" fill="#6cc530" stroke="#2d8a1e"/><rect x="1108.5" y="405.5" width="2" height="16" rx=".25" fill="#6cc530" stroke="#2d8a1e"/><rect x="1112.5" y="402.5" width="2" height="7" rx=".25" fill="#f05858" stroke="#c51b14"/><rect x="1116.5" y="404.5" width="2" height="6" rx=".25" fill="#f05858" stroke="#c51b14"/><rect x="1120.5" y="397.5" width="2" height="13" rx=".25" fill="#6cc530" stroke="#2d8a1e"/><rect x="1124.5" y="395.5" width="2" height="14" rx=".25" fill="#f05858" stroke="#c51b14"/><rect x="1129.5" y="409.5" width="2" height="3" rx=".25" fill="#6cc530" stroke="#2d8a1e"/><rect x="1133.5" y="408.5" width="2" height="17" rx=".25" fill="#f05858" stroke="#c51b14"/><rect x="1137.5" y="388.5" width="2" height="36" rx=".25" fill="#6cc530" stroke="#2d8a1e"/><rect x="1141.5" y="385.5" width="2" height="12" rx=".25" fill="#6cc530" stroke="#2d8a1e"/><rect x="1145.5" y="368.5" width="2" height="11" rx=".25" fill="#6cc530" stroke="#2d8a1e"/><rect x="1149.5" y="361.5" width="2" height="14" rx=".25" fill="#6cc530" stroke="#2d8a1e"/><rect x="1153.5" y="354.5" width="2" height="6" rx=".25" fill="#f05858" stroke="#c51b14"/><rect x="1157.5" y="351.5" width="2" height="2" rx=".25" fill="#6cc530" stroke="#2d8a1e"/><rect x="1161.5" y="347.5" width="2" height="5" rx=".25" fill="#6cc530" stroke="#2d8a1e"/><rect x="1165.5" y="347.5" width="2" height="8" rx=".25" fill="#f05858" stroke="#c51b14"/><rect x="1170.5" y="355.5" width="2" height="4" rx=".25" fill="#f05858" stroke="#c51b14"/><rect x="1174.5" y="356.5" width="2" height="23" rx=".25" fill="#f05858" stroke="#c51b14"/><rect x="1178" y="378" width="3" height="2" fill="#2d8a1e" shape-rendering="crispEdges"/><rect x="1182.5" y="366.5" width="2" height="16" rx=".25" fill="#6cc530" stroke="#2d8a1e"/><rect x="1186.5" y="369.5" width="2" height="9" rx=".25" fill="#f05858" stroke="#c51b14"/><rect x="1190.5" y="379.5" width="2" height="9" rx=".25" fill="#6cc530" stroke="#2d8a1e"/><rect x="1194.5" y="382.5" width="2" height="7" rx=".25" fill="#f05858" stroke="#c51b14"/><rect x="1198.5" y="384.5" width="2" height="7" rx=".25" fill="#6cc530" stroke="#2d8a1e"/><rect x="1202.5" y="384.5" width="2" height="4" rx=".25" fill="#f05858" stroke="#c51b14"/><rect x="1207.5" y="373.5" width="2" height="18" rx=".25" fill="#6cc530" stroke="#2d8a1e"/><rect x="1211.5" y="369.5" width="2" height="6" rx=".25" fill="#f05858" stroke="#c51b14"/><rect x="1215.5" y="372.5" width="2" height="2" rx=".25" fill="#6cc530" stroke="#2d8a1e"/><rect x="1219.5" y="369.5" width="2" height="19" rx=".25" fill="#f05858" stroke="#c51b14"/><rect x="1223.5" y="382.5" width="2" height="7" rx=".25" fill="#6cc530" stroke="#2d8a1e"/><rect x="1227.5" y="378.5" width="2" height="6" rx=".25" fill="#6cc530" stroke="#2d8a1e"/><rect x="1231.5" y="375.5" width="2" height="4" rx=".25" fill="#f05858" stroke="#c51b14"/><rect x="1235.5" y="375.5" width="2" height="2" rx=".25" fill="#f05858" stroke="#c51b14"/><rect x="1239.5" y="376.5" width="2" height="7" rx=".25" fill="#6cc530" stroke="#2d8a1e"/><rect x="1243.5" y="351.5" width="2" height="24" rx=".25" fill="#6cc530" stroke="#2d8a1e"/><rect x="1248.5" y="362.5" width="2" height="4" rx=".25" fill="#f05858" stroke="#c51b14"/><rect x="1252.5" y="353.5" width="2" height="15" rx=".25" fill="#6cc530" stroke="#2d8a1e"/><rect x="1256.5" y="347.5" width="2" height="17" rx=".25" fill="#f05858" stroke="#c51b14"/><rect x="1260.5" y="367.5" width="2" height="5" rx=".25" fill="#f05858" stroke="#c51b14"/><rect x="1264.5" y="364.5" width="2" height="2" rx=".25" fill="#f05858" stroke="#c51b14"/><rect x="1268" y="369" width="3" height="1" fill="#c51b14" shape-rendering="crispEdges"/><rect x="1272.5" y="363.5" width="2" height="2" rx=".25" fill="#6cc530" stroke="#2d8a1e"/><rect x="1276.5" y="359.5" width="2" height="2" rx=".25" fill="#6cc530" stroke="#2d8a1e"/><rect x="1280.5" y="340.5" width="2" height="13" rx=".25" fill="#6cc530" stroke="#2d8a1e"/><rect x="1284.5" y="341.5" width="2" height="17" rx=".25" fill="#f05858" stroke="#c51b14"/><rect x="1289" y="361" width="3" height="2" fill="#c51b14" shape-rendering="crispEdges"/><rect x="1293.5" y="362.5" width="2" height="4" rx=".25" fill="#f05858" stroke="#c51b14"/><rect x="1297.5" y="353.5" width="2" height="14" rx=".25" fill="#6cc530" stroke="#2d8a1e"/><rect x="1301.5" y="354.5" width="2" height="6" rx=".25" fill="#f05858" stroke="#c51b14"/><rect x="1305" y="358" width="3" height="2" fill="#2d8a1e" shape-rendering="crispEdges"/><rect x="1309.5" y="366.5" width="2" height="6" rx=".25" fill="#f05858" stroke="#c51b14"/><rect x="1313.5" y="368.5" width="2" height="5" rx=".25" fill="#6cc530" stroke="#2d8a1e"/><rect x="1317.5" y="368.5" width="2" height="7" rx=".25" fill="#f05858" stroke="#c51b14"/><rect x="1321.5" y="367.5" width="2" height="9" rx=".25" fill="#6cc530" stroke="#2d8a1e"/><rect x="1325.5" y="368.5" width="2" height="3" rx=".25" fill="#f05858" stroke="#c51b14"/><rect x="1330.5" y="365.5" width="2" height="9" rx=".25" fill="#6cc530" stroke="#2d8a1e"/><rect x="1334.5" y="353.5" width="2" height="12" rx=".25" fill="#6cc530" stroke="#2d8a1e"/><rect x="1338.5" y="351.5" width="2" height="19" rx=".25" fill="#f05858" stroke="#c51b14"/><rect x="1342.5" y="364.5" width="2" height="13" rx=".25" fill="#6cc530" stroke="#2d8a1e"/><rect x="1346" y="367" width="3" height="2" fill="#c51b14" shape-rendering="crispEdges"/><rect x="1350.5" y="368.5" width="2" height="10" rx=".25" fill="#f05858" stroke="#c51b14"/><rect x="1354.5" y="361.5" width="2" height="21" rx=".25" fill="#6cc530" stroke="#2d8a1e"/><rect x="1358" y="360" width="3" height="2" fill="#2d8a1e" shape-rendering="crispEdges"/><rect x="1362.5" y="365.5" width="2" height="19" rx=".25" fill="#f05858" stroke="#c51b14"/><rect x="1367.5" y="386.5" width="2" height="4" rx=".25" fill="#f05858" stroke="#c51b14"/><rect x="1371.5" y="373.5" width="2" height="16" rx=".25" fill="#6cc530" stroke="#2d8a1e"/><rect x="1375.5" y="369.5" width="2" height="3" rx=".25" fill="#6cc530" stroke="#2d8a1e"/><rect x="1379.5" y="366.5" width="2" height="3" rx=".25" fill="#6cc530" stroke="#2d8a1e"/><rect x="1383.5" y="355.5" width="2" height="13" rx=".25" fill="#6cc530" stroke="#2d8a1e"/><rect x="1387.5" y="351.5" width="2" height="14" rx=".25" fill="#f05858" stroke="#c51b14"/><rect x="1391.5" y="337.5" width="2" height="27" rx=".25" fill="#6cc530" stroke="#2d8a1e"/><rect x="1395.5" y="306.5" width="2" height="29" rx=".25" fill="#6cc530" stroke="#2d8a1e"/></g>
<polygon points="383.5,568.3 481.7,339.7 1150.8,423.2" fill="#38b0f5" fill-opacity="0.05" stroke="none"/>
<polygon points="1031.7,309.7 1084.7,458.3 1598,358.5" fill="#f06292" fill-opacity="0.05" stroke="none"/>
<line x1="383.5" y1="569.3" x2="1126.3" y2="453" stroke="#b9b9b9" stroke-width="2"/>
<line x1="478" y1="416.6" x2="1421.5" y2="414.6" stroke="#8c8c8c" stroke-width="1.1"/>
<line x1="482" y1="340.7" x2="1590" y2="341.4" stroke="#f49dbc" stroke-width="1.3" stroke-dasharray="4.7 3.3"/>
<polygon points="383.5,568.3 481.7,339.7 1150.8,423.2" fill="none" stroke="#2fb0f7" stroke-width="1.1" stroke-linejoin="round"/>
<polygon points="1031.7,309.7 1084.7,458.3 1598,358.5" fill="none" stroke="#f48fb1" stroke-width="1.2" stroke-linejoin="round"/>
<line x1="876" y1="205" x2="979" y2="204.7" stroke="#45b6fb" stroke-width="2.2"/>
<line x1="1401.2" y1="207.4" x2="1496" y2="207.4" stroke="#ff2a3f" stroke-width="1.3"/>
<line x1="1400.6" y1="318.5" x2="1446.6" y2="214.4" stroke="#ff1744" stroke-width="1.4" stroke-dasharray="4.6 3.6"/>
<clipPath id="cm"><rect x="0" y="700" width="1752" height="134"/></clipPath>
<g clip-path="url(#cm)">
<g>
<rect x="-0.5" y="768.5" width="2" height="4.0" rx=".3" fill="#d6e7f9" stroke="#a6c2e1" stroke-width="1"/>
<rect x="3.5" y="769.5" width="2" height="3.0" rx=".3" fill="#d6e7f9" stroke="#a6c2e1" stroke-width="1"/>
<rect x="7.5" y="769.5" width="3" height="3.0" rx=".3" fill="#d6e7f9" stroke="#a6c2e1" stroke-width="1"/>
<rect x="12.5" y="769.5" width="2" height="3.0" rx=".3" fill="#d6e7f9" stroke="#a6c2e1" stroke-width="1"/>
<rect x="16.5" y="770.5" width="2" height="2.0" rx=".3" fill="#d6e7f9" stroke="#a6c2e1" stroke-width="1"/>
<rect x="20.5" y="770.5" width="2" height="2.0" rx=".3" fill="#d6e7f9" stroke="#a6c2e1" stroke-width="1"/>
<rect x="24.5" y="770.5" width="2" height="2.0" rx=".3" fill="#d6e7f9" stroke="#a6c2e1" stroke-width="1"/>
<rect x="28.5" y="771.5" width="2" height="1.0" rx=".3" fill="#d6e7f9" stroke="#a6c2e1" stroke-width="1"/>
<rect x="32.5" y="771.5" width="2" height="1.0" rx=".3" fill="#d6e7f9" stroke="#a6c2e1" stroke-width="1"/>
<rect x="36.5" y="771.5" width="2" height="1.0" rx=".3" fill="#d6e7f9" stroke="#a6c2e1" stroke-width="1"/>
<rect x="40.5" y="771.5" width="2" height="1.0" rx=".3" fill="#d6e7f9" stroke="#a6c2e1" stroke-width="1"/>
<rect x="44.5" y="771.5" width="3" height="1.0" rx=".3" fill="#d6e7f9" stroke="#a6c2e1" stroke-width="1"/>
<rect x="49.5" y="772.5" width="2" height="1.0" rx=".3" fill="#d6e7f9" stroke="#a6c2e1" stroke-width="1"/>
<rect x="53.5" y="771.5" width="2" height="1.0" rx=".3" fill="#d6e7f9" stroke="#a6c2e1" stroke-width="1"/>
<rect x="57.5" y="771.5" width="2" height="1.0" rx=".3" fill="#d6e7f9" stroke="#a6c2e1" stroke-width="1"/>
<rect x="61.5" y="771.5" width="2" height="1.0" rx=".3" fill="#d6e7f9" stroke="#a6c2e1" stroke-width="1"/>
<rect x="65.5" y="771.5" width="2" height="1.0" rx=".3" fill="#d6e7f9" stroke="#a6c2e1" stroke-width="1"/>
<rect x="69.5" y="771.5" width="2" height="1.0" rx=".3" fill="#d6e7f9" stroke="#a6c2e1" stroke-width="1"/>
<rect x="73.5" y="771.5" width="2" height="1.0" rx=".3" fill="#d6e7f9" stroke="#a6c2e1" stroke-width="1"/>
<rect x="77.5" y="771.5" width="2" height="1.0" rx=".3" fill="#d6e7f9" stroke="#a6c2e1" stroke-width="1"/>
<rect x="81.5" y="771.5" width="2" height="1.0" rx=".3" fill="#d6e7f9" stroke="#a6c2e1" stroke-width="1"/>
<rect x="85.5" y="771.5" width="3" height="1.0" rx=".3" fill="#d6e7f9" stroke="#a6c2e1" stroke-width="1"/>
<rect x="90.5" y="771.5" width="2" height="1.0" rx=".3" fill="#d6e7f9" stroke="#a6c2e1" stroke-width="1"/>
<rect x="94.5" y="763.5" width="2" height="9.0" rx=".3" fill="#d6e7f9" stroke="#a6c2e1" stroke-width="1"/>
<rect x="98.5" y="756.5" width="2" height="16.0" rx=".3" fill="#d6e7f9" stroke="#a6c2e1" stroke-width="1"/>
<rect x="102.5" y="752.5" width="2" height="20.0" rx=".3" fill="#d6e7f9" stroke="#a6c2e1" stroke-width="1"/>
<rect x="106.5" y="750.5" width="2" height="22.0" rx=".3" fill="#d6e7f9" stroke="#a6c2e1" stroke-width="1"/>
<rect x="110.5" y="753.5" width="2" height="19.0" rx=".3" fill="#d6e7f9" stroke="#a6c2e1" stroke-width="1"/>
<rect x="114.5" y="755.5" width="2" height="17.0" rx=".3" fill="#d6e7f9" stroke="#a6c2e1" stroke-width="1"/>
<rect x="118.5" y="756.5" width="2" height="16.0" rx=".3" fill="#d6e7f9" stroke="#a6c2e1" stroke-width="1"/>
<rect x="122.5" y="757.5" width="2" height="15.0" rx=".3" fill="#d6e7f9" stroke="#a6c2e1" stroke-width="1"/>
<rect x="126.5" y="759.5" width="3" height="13.0" rx=".3" fill="#d6e7f9" stroke="#a6c2e1" stroke-width="1"/>
<rect x="131.5" y="765.5" width="2" height="7.0" rx=".3" fill="#d6e7f9" stroke="#a6c2e1" stroke-width="1"/>
<rect x="135.5" y="769.5" width="2" height="3.0" rx=".3" fill="#d6e7f9" stroke="#a6c2e1" stroke-width="1"/>
<rect x="139.5" y="772.5" width="2" height="2.0" rx=".3" fill="#d6e7f9" stroke="#a6c2e1" stroke-width="1"/>
<rect x="143.5" y="772.5" width="2" height="3.0" rx=".3" fill="#d6e7f9" stroke="#a6c2e1" stroke-width="1"/>
<rect x="147.5" y="772.5" width="2" height="2.0" rx=".3" fill="#d6e7f9" stroke="#a6c2e1" stroke-width="1"/>
<rect x="151.5" y="772.5" width="2" height="2.0" rx=".3" fill="#d6e7f9" stroke="#a6c2e1" stroke-width="1"/>
<rect x="155.5" y="769.5" width="2" height="3.0" rx=".3" fill="#d6e7f9" stroke="#a6c2e1" stroke-width="1"/>
<rect x="159.5" y="761.5" width="2" height="11.0" rx=".3" fill="#d6e7f9" stroke="#a6c2e1" stroke-width="1"/>
<rect x="163.5" y="758.5" width="2" height="14.0" rx=".3" fill="#d6e7f9" stroke="#a6c2e1" stroke-width="1"/>
<rect x="167.5" y="762.5" width="3" height="10.0" rx=".3" fill="#d6e7f9" stroke="#a6c2e1" stroke-width="1"/>
<rect x="172.5" y="764.5" width="2" height="8.0" rx=".3" fill="#d6e7f9" stroke="#a6c2e1" stroke-width="1"/>
<rect x="176.5" y="763.5" width="2" height="9.0" rx=".3" fill="#d6e7f9" stroke="#a6c2e1" stroke-width="1"/>
<rect x="180.5" y="766.5" width="2" height="6.0" rx=".3" fill="#d6e7f9" stroke="#a6c2e1" stroke-width="1"/>
<rect x="184.5" y="770.5" width="2" height="2.0" rx=".3" fill="#d6e7f9" stroke="#a6c2e1" stroke-width="1"/>
<rect x="188.5" y="772.5" width="2" height="3.0" rx=".3" fill="#d6e7f9" stroke="#a6c2e1" stroke-width="1"/>
<rect x="192.5" y="772.5" width="2" height="7.0" rx=".3" fill="#d6e7f9" stroke="#a6c2e1" stroke-width="1"/>
<rect x="196.5" y="772.5" width="2" height="12.0" rx=".3" fill="#d6e7f9" stroke="#a6c2e1" stroke-width="1"/>
<rect x="200.5" y="772.5" width="2" height="15.0" rx=".3" fill="#d6e7f9" stroke="#a6c2e1" stroke-width="1"/>
<rect x="204.5" y="772.5" width="3" height="19.0" rx=".3" fill="#d6e7f9" stroke="#a6c2e1" stroke-width="1"/>
<rect x="209.5" y="772.5" width="2" height="22.0" rx=".3" fill="#d6e7f9" stroke="#a6c2e1" stroke-width="1"/>
<rect x="213.5" y="772.5" width="2" height="26.0" rx=".3" fill="#d6e7f9" stroke="#a6c2e1" stroke-width="1"/>
<rect x="217.5" y="772.5" width="2" height="31.0" rx=".3" fill="#d6e7f9" stroke="#a6c2e1" stroke-width="1"/>
<rect x="221.5" y="772.5" width="2" height="34.0" rx=".3" fill="#d6e7f9" stroke="#a6c2e1" stroke-width="1"/>
<rect x="225.5" y="772.5" width="2" height="34.0" rx=".3" fill="#d6e7f9" stroke="#a6c2e1" stroke-width="1"/>
<rect x="229.5" y="772.5" width="2" height="33.0" rx=".3" fill="#d6e7f9" stroke="#a6c2e1" stroke-width="1"/>
<rect x="233.5" y="772.5" width="2" height="33.0" rx=".3" fill="#d6e7f9" stroke="#a6c2e1" stroke-width="1"/>
<rect x="237.5" y="772.5" width="2" height="30.0" rx=".3" fill="#d6e7f9" stroke="#a6c2e1" stroke-width="1"/>
<rect x="241.5" y="772.5" width="2" height="27.0" rx=".3" fill="#d6e7f9" stroke="#a6c2e1" stroke-width="1"/>
<rect x="245.5" y="772.5" width="3" height="23.0" rx=".3" fill="#d6e7f9" stroke="#a6c2e1" stroke-width="1"/>
<rect x="250.5" y="772.5" width="2" height="17.0" rx=".3" fill="#d6e7f9" stroke="#a6c2e1" stroke-width="1"/>
<rect x="254.5" y="772.5" width="2" height="15.0" rx=".3" fill="#d6e7f9" stroke="#a6c2e1" stroke-width="1"/>
<rect x="258.5" y="772.5" width="2" height="14.0" rx=".3" fill="#d6e7f9" stroke="#a6c2e1" stroke-width="1"/>
<rect x="262.5" y="772.5" width="2" height="13.0" rx=".3" fill="#d6e7f9" stroke="#a6c2e1" stroke-width="1"/>
<rect x="266.5" y="772.5" width="2" height="9.0" rx=".3" fill="#d6e7f9" stroke="#a6c2e1" stroke-width="1"/>
<rect x="270.5" y="772.5" width="2" height="3.0" rx=".3" fill="#d6e7f9" stroke="#a6c2e1" stroke-width="1"/>
<rect x="274.5" y="771.5" width="2" height="1.0" rx=".3" fill="#d6e7f9" stroke="#a6c2e1" stroke-width="1"/>
<rect x="278.5" y="766.5" width="2" height="6.0" rx=".3" fill="#d6e7f9" stroke="#a6c2e1" stroke-width="1"/>
<rect x="282.5" y="765.5" width="2" height="7.0" rx=".3" fill="#d6e7f9" stroke="#a6c2e1" stroke-width="1"/>
<rect x="286.5" y="765.5" width="3" height="7.0" rx=".3" fill="#d6e7f9" stroke="#a6c2e1" stroke-width="1"/>
<rect x="291.5" y="765.5" width="2" height="7.0" rx=".3" fill="#d6e7f9" stroke="#a6c2e1" stroke-width="1"/>
<rect x="295.5" y="764.5" width="2" height="8.0" rx=".3" fill="#d6e7f9" stroke="#a6c2e1" stroke-width="1"/>
<rect x="299.5" y="765.5" width="2" height="7.0" rx=".3" fill="#d6e7f9" stroke="#a6c2e1" stroke-width="1"/>
<rect x="303.5" y="766.5" width="2" height="6.0" rx=".3" fill="#d6e7f9" stroke="#a6c2e1" stroke-width="1"/>
<rect x="307.5" y="767.5" width="2" height="5.0" rx=".3" fill="#d6e7f9" stroke="#a6c2e1" stroke-width="1"/>
<rect x="311.5" y="769.5" width="2" height="3.0" rx=".3" fill="#d6e7f9" stroke="#a6c2e1" stroke-width="1"/>
<rect x="315.5" y="771.5" width="2" height="1.0" rx=".3" fill="#d6e7f9" stroke="#a6c2e1" stroke-width="1"/>
<rect x="319.5" y="772.5" width="2" height="1.0" rx=".3" fill="#d6e7f9" stroke="#a6c2e1" stroke-width="1"/>
<rect x="323.5" y="772.5" width="3" height="2.0" rx=".3" fill="#d6e7f9" stroke="#a6c2e1" stroke-width="1"/>
<rect x="328.5" y="772.5" width="2" height="1.0" rx=".3" fill="#d6e7f9" stroke="#a6c2e1" stroke-width="1"/>
<rect x="332.5" y="772.5" width="2" height="1.0" rx=".3" fill="#d6e7f9" stroke="#a6c2e1" stroke-width="1"/>
<rect x="336.5" y="772.5" width="2" height="1.0" rx=".3" fill="#d6e7f9" stroke="#a6c2e1" stroke-width="1"/>
<rect x="340.5" y="771.5" width="2" height="1.0" rx=".3" fill="#d6e7f9" stroke="#a6c2e1" stroke-width="1"/>
<rect x="344.5" y="770.5" width="2" height="2.0" rx=".3" fill="#d6e7f9" stroke="#a6c2e1" stroke-width="1"/>
<rect x="348.5" y="768.5" width="2" height="4.0" rx=".3" fill="#d6e7f9" stroke="#a6c2e1" stroke-width="1"/>
<rect x="352.5" y="770.5" width="2" height="2.0" rx=".3" fill="#d6e7f9" stroke="#a6c2e1" stroke-width="1"/>
<rect x="356.5" y="770.5" width="2" height="2.0" rx=".3" fill="#d6e7f9" stroke="#a6c2e1" stroke-width="1"/>
<rect x="360.5" y="771.5" width="2" height="1.0" rx=".3" fill="#d6e7f9" stroke="#a6c2e1" stroke-width="1"/>
<rect x="364.5" y="772.5" width="3" height="1.0" rx=".3" fill="#d6e7f9" stroke="#a6c2e1" stroke-width="1"/>
<rect x="369.5" y="772.5" width="2" height="1.0" rx=".3" fill="#d6e7f9" stroke="#a6c2e1" stroke-width="1"/>
<rect x="373.5" y="772.5" width="2" height="2.0" rx=".3" fill="#d6e7f9" stroke="#a6c2e1" stroke-width="1"/>
<rect x="377.5" y="772.5" width="2" height="1.0" rx=".3" fill="#d6e7f9" stroke="#a6c2e1" stroke-width="1"/>
<rect x="381.5" y="772.5" width="2" height="1.0" rx=".3" fill="#d6e7f9" stroke="#a6c2e1" stroke-width="1"/>
<rect x="385.5" y="772.5" width="2" height="1.0" rx=".3" fill="#d6e7f9" stroke="#a6c2e1" stroke-width="1"/>
<rect x="389.5" y="771.5" width="2" height="1.0" rx=".3" fill="#d6e7f9" stroke="#a6c2e1" stroke-width="1"/>
<rect x="393.5" y="771.5" width="2" height="1.0" rx=".3" fill="#d6e7f9" stroke="#a6c2e1" stroke-width="1"/>
<rect x="397.5" y="770.5" width="2" height="2.0" rx=".3" fill="#d6e7f9" stroke="#a6c2e1" stroke-width="1"/>
<rect x="401.5" y="770.5" width="2" height="2.0" rx=".3" fill="#d6e7f9" stroke="#a6c2e1" stroke-width="1"/>
<rect x="405.5" y="770.5" width="3" height="2.0" rx=".3" fill="#d6e7f9" stroke="#a6c2e1" stroke-width="1"/>
<rect x="410.5" y="770.5" width="2" height="2.0" rx=".3" fill="#d6e7f9" stroke="#a6c2e1" stroke-width="1"/>
<rect x="414.5" y="769.5" width="2" height="3.0" rx=".3" fill="#d6e7f9" stroke="#a6c2e1" stroke-width="1"/>
<rect x="418.5" y="768.5" width="2" height="4.0" rx=".3" fill="#d6e7f9" stroke="#a6c2e1" stroke-width="1"/>
<rect x="422.5" y="767.5" width="2" height="5.0" rx=".3" fill="#d6e7f9" stroke="#a6c2e1" stroke-width="1"/>
<rect x="426.5" y="766.5" width="2" height="6.0" rx=".3" fill="#d6e7f9" stroke="#a6c2e1" stroke-width="1"/>
<rect x="430.5" y="766.5" width="2" height="6.0" rx=".3" fill="#d6e7f9" stroke="#a6c2e1" stroke-width="1"/>
<rect x="434.5" y="763.5" width="2" height="9.0" rx=".3" fill="#d6e7f9" stroke="#a6c2e1" stroke-width="1"/>
<rect x="438.5" y="762.5" width="2" height="10.0" rx=".3" fill="#d6e7f9" stroke="#a6c2e1" stroke-width="1"/>
<rect x="442.5" y="760.5" width="2" height="12.0" rx=".3" fill="#d6e7f9" stroke="#a6c2e1" stroke-width="1"/>
<rect x="446.5" y="758.5" width="3" height="14.0" rx=".3" fill="#d6e7f9" stroke="#a6c2e1" stroke-width="1"/>
<rect x="451.5" y="755.5" width="2" height="17.0" rx=".3" fill="#d6e7f9" stroke="#a6c2e1" stroke-width="1"/>
<rect x="455.5" y="756.5" width="2" height="16.0" rx=".3" fill="#d6e7f9" stroke="#a6c2e1" stroke-width="1"/>
<rect x="459.5" y="758.5" width="2" height="14.0" rx=".3" fill="#d6e7f9" stroke="#a6c2e1" stroke-width="1"/>
<rect x="463.5" y="758.5" width="2" height="14.0" rx=".3" fill="#d6e7f9" stroke="#a6c2e1" stroke-width="1"/>
<rect x="467.5" y="759.5" width="2" height="13.0" rx=".3" fill="#d6e7f9" stroke="#a6c2e1" stroke-width="1"/>
<rect x="471.5" y="760.5" width="2" height="12.0" rx=".3" fill="#d6e7f9" stroke="#a6c2e1" stroke-width="1"/>
<rect x="475.5" y="760.5" width="2" height="12.0" rx=".3" fill="#d6e7f9" stroke="#a6c2e1" stroke-width="1"/>
<rect x="479.5" y="759.5" width="2" height="13.0" rx=".3" fill="#d6e7f9" stroke="#a6c2e1" stroke-width="1"/>
<rect x="483.5" y="761.5" width="3" height="11.0" rx=".3" fill="#d6e7f9" stroke="#a6c2e1" stroke-width="1"/>
<rect x="488.5" y="764.5" width="2" height="8.0" rx=".3" fill="#d6e7f9" stroke="#a6c2e1" stroke-width="1"/>
<rect x="492.5" y="766.5" width="2" height="6.0" rx=".3" fill="#d6e7f9" stroke="#a6c2e1" stroke-width="1"/>
<rect x="496.5" y="768.5" width="2" height="4.0" rx=".3" fill="#d6e7f9" stroke="#a6c2e1" stroke-width="1"/>
<rect x="500.5" y="770.5" width="2" height="2.0" rx=".3" fill="#d6e7f9" stroke="#a6c2e1" stroke-width="1"/>
<rect x="504.5" y="771.5" width="2" height="1.0" rx=".3" fill="#d6e7f9" stroke="#a6c2e1" stroke-width="1"/>
<rect x="508.5" y="772.5" width="2" height="1.0" rx=".3" fill="#d6e7f9" stroke="#a6c2e1" stroke-width="1"/>
<rect x="512.5" y="772.5" width="2" height="2.0" rx=".3" fill="#d6e7f9" stroke="#a6c2e1" stroke-width="1"/>
<rect x="516.5" y="772.5" width="2" height="4.0" rx=".3" fill="#d6e7f9" stroke="#a6c2e1" stroke-width="1"/>
<rect x="520.5" y="772.5" width="2" height="4.0" rx=".3" fill="#d6e7f9" stroke="#a6c2e1" stroke-width="1"/>
<rect x="524.5" y="772.5" width="3" height="5.0" rx=".3" fill="#d6e7f9" stroke="#a6c2e1" stroke-width="1"/>
<rect x="529.5" y="772.5" width="2" height="6.0" rx=".3" fill="#d6e7f9" stroke="#a6c2e1" stroke-width="1"/>
<rect x="533.5" y="772.5" width="2" height="7.0" rx=".3" fill="#d6e7f9" stroke="#a6c2e1" stroke-width="1"/>
<rect x="537.5" y="772.5" width="2" height="9.0" rx=".3" fill="#d6e7f9" stroke="#a6c2e1" stroke-width="1"/>
<rect x="541.5" y="772.5" width="2" height="11.0" rx=".3" fill="#d6e7f9" stroke="#a6c2e1" stroke-width="1"/>
<rect x="545.5" y="772.5" width="2" height="12.0" rx=".3" fill="#d6e7f9" stroke="#a6c2e1" stroke-width="1"/>
<rect x="549.5" y="772.5" width="2" height="12.0" rx=".3" fill="#d6e7f9" stroke="#a6c2e1" stroke-width="1"/>
<rect x="553.5" y="772.5" width="2" height="11.0" rx=".3" fill="#d6e7f9" stroke="#a6c2e1" stroke-width="1"/>
<rect x="557.5" y="772.5" width="2" height="11.0" rx=".3" fill="#d6e7f9" stroke="#a6c2e1" stroke-width="1"/>
<rect x="561.5" y="772.5" width="2" height="10.0" rx=".3" fill="#d6e7f9" stroke="#a6c2e1" stroke-width="1"/>
<rect x="565.5" y="772.5" width="3" height="8.0" rx=".3" fill="#d6e7f9" stroke="#a6c2e1" stroke-width="1"/>
<rect x="570.5" y="772.5" width="2" height="7.0" rx=".3" fill="#d6e7f9" stroke="#a6c2e1" stroke-width="1"/>
<rect x="574.5" y="772.5" width="2" height="5.0" rx=".3" fill="#d6e7f9" stroke="#a6c2e1" stroke-width="1"/>
<rect x="578.5" y="772.5" width="2" height="5.0" rx=".3" fill="#d6e7f9" stroke="#a6c2e1" stroke-width="1"/>
<rect x="582.5" y="772.5" width="2" height="2.0" rx=".3" fill="#d6e7f9" stroke="#a6c2e1" stroke-width="1"/>
<rect x="586.5" y="771.5" width="2" height="1.0" rx=".3" fill="#d6e7f9" stroke="#a6c2e1" stroke-width="1"/>
<rect x="590.5" y="771.5" width="2" height="1.0" rx=".3" fill="#d6e7f9" stroke="#a6c2e1" stroke-width="1"/>
<rect x="594.5" y="770.5" width="2" height="2.0" rx=".3" fill="#d6e7f9" stroke="#a6c2e1" stroke-width="1"/>
<rect x="598.5" y="770.5" width="2" height="2.0" rx=".3" fill="#d6e7f9" stroke="#a6c2e1" stroke-width="1"/>
<rect x="602.5" y="769.5" width="2" height="3.0" rx=".3" fill="#d6e7f9" stroke="#a6c2e1" stroke-width="1"/>
<rect x="606.5" y="770.5" width="3" height="2.0" rx=".3" fill="#d6e7f9" stroke="#a6c2e1" stroke-width="1"/>
<rect x="611.5" y="770.5" width="2" height="2.0" rx=".3" fill="#d6e7f9" stroke="#a6c2e1" stroke-width="1"/>
<rect x="615.5" y="771.5" width="2" height="1.0" rx=".3" fill="#d6e7f9" stroke="#a6c2e1" stroke-width="1"/>
<rect x="619.5" y="771.5" width="2" height="1.0" rx=".3" fill="#d6e7f9" stroke="#a6c2e1" stroke-width="1"/>
<rect x="623.5" y="772.5" width="2" height="1.0" rx=".3" fill="#d6e7f9" stroke="#a6c2e1" stroke-width="1"/>
<rect x="627.5" y="772.5" width="2" height="1.0" rx=".3" fill="#d6e7f9" stroke="#a6c2e1" stroke-width="1"/>
<rect x="631.5" y="770.5" width="2" height="2.0" rx=".3" fill="#d6e7f9" stroke="#a6c2e1" stroke-width="1"/>
<rect x="635.5" y="769.5" width="2" height="3.0" rx=".3" fill="#d6e7f9" stroke="#a6c2e1" stroke-width="1"/>
<rect x="639.5" y="768.5" width="2" height="4.0" rx=".3" fill="#d6e7f9" stroke="#a6c2e1" stroke-width="1"/>
<rect x="643.5" y="769.5" width="3" height="3.0" rx=".3" fill="#d6e7f9" stroke="#a6c2e1" stroke-width="1"/>
<rect x="648.5" y="771.5" width="2" height="1.0" rx=".3" fill="#d6e7f9" stroke="#a6c2e1" stroke-width="1"/>
<rect x="652.5" y="772.5" width="2" height="1.0" rx=".3" fill="#d6e7f9" stroke="#a6c2e1" stroke-width="1"/>
<rect x="656.5" y="772.5" width="2" height="2.0" rx=".3" fill="#d6e7f9" stroke="#a6c2e1" stroke-width="1"/>
<rect x="660.5" y="772.5" width="2" height="3.0" rx=".3" fill="#d6e7f9" stroke="#a6c2e1" stroke-width="1"/>
<rect x="664.5" y="772.5" width="2" height="2.0" rx=".3" fill="#d6e7f9" stroke="#a6c2e1" stroke-width="1"/>
<rect x="668.5" y="772.5" width="2" height="2.0" rx=".3" fill="#d6e7f9" stroke="#a6c2e1" stroke-width="1"/>
<rect x="672.5" y="772.5" width="2" height="3.0" rx=".3" fill="#d6e7f9" stroke="#a6c2e1" stroke-width="1"/>
<rect x="676.5" y="772.5" width="2" height="2.0" rx=".3" fill="#d6e7f9" stroke="#a6c2e1" stroke-width="1"/>
<rect x="680.5" y="772.5" width="2" height="1.0" rx=".3" fill="#d6e7f9" stroke="#a6c2e1" stroke-width="1"/>
<rect x="684.5" y="772.5" width="3" height="1.0" rx=".3" fill="#d6e7f9" stroke="#a6c2e1" stroke-width="1"/>
<rect x="689.5" y="772.5" width="2" height="1.0" rx=".3" fill="#d6e7f9" stroke="#a6c2e1" stroke-width="1"/>
<rect x="693.5" y="772.5" width="2" height="1.0" rx=".3" fill="#d6e7f9" stroke="#a6c2e1" stroke-width="1"/>
<rect x="697.5" y="772.5" width="2" height="1.0" rx=".3" fill="#d6e7f9" stroke="#a6c2e1" stroke-width="1"/>
<rect x="701.5" y="771.5" width="2" height="1.0" rx=".3" fill="#d6e7f9" stroke="#a6c2e1" stroke-width="1"/>
<rect x="705.5" y="768.5" width="2" height="4.0" rx=".3" fill="#d6e7f9" stroke="#a6c2e1" stroke-width="1"/>
<rect x="709.5" y="766.5" width="2" height="6.0" rx=".3" fill="#d6e7f9" stroke="#a6c2e1" stroke-width="1"/>
<rect x="713.5" y="765.5" width="2" height="7.0" rx=".3" fill="#d6e7f9" stroke="#a6c2e1" stroke-width="1"/>
<rect x="717.5" y="764.5" width="2" height="8.0" rx=".3" fill="#d6e7f9" stroke="#a6c2e1" stroke-width="1"/>
<rect x="721.5" y="765.5" width="2" height="7.0" rx=".3" fill="#d6e7f9" stroke="#a6c2e1" stroke-width="1"/>
<rect x="725.5" y="766.5" width="3" height="6.0" rx=".3" fill="#d6e7f9" stroke="#a6c2e1" stroke-width="1"/>
<rect x="730.5" y="766.5" width="2" height="6.0" rx=".3" fill="#d6e7f9" stroke="#a6c2e1" stroke-width="1"/>
<rect x="734.5" y="768.5" width="2" height="4.0" rx=".3" fill="#d6e7f9" stroke="#a6c2e1" stroke-width="1"/>
<rect x="738.5" y="768.5" width="2" height="4.0" rx=".3" fill="#d6e7f9" stroke="#a6c2e1" stroke-width="1"/>
<rect x="742.5" y="769.5" width="2" height="3.0" rx=".3" fill="#d6e7f9" stroke="#a6c2e1" stroke-width="1"/>
<rect x="746.5" y="768.5" width="2" height="4.0" rx=".3" fill="#d6e7f9" stroke="#a6c2e1" stroke-width="1"/>
<rect x="750.5" y="767.5" width="2" height="5.0" rx=".3" fill="#d6e7f9" stroke="#a6c2e1" stroke-width="1"/>
<rect x="754.5" y="767.5" width="2" height="5.0" rx=".3" fill="#d6e7f9" stroke="#a6c2e1" stroke-width="1"/>
<rect x="758.5" y="766.5" width="2" height="6.0" rx=".3" fill="#d6e7f9" stroke="#a6c2e1" stroke-width="1"/>
<rect x="762.5" y="768.5" width="3" height="4.0" rx=".3" fill="#d6e7f9" stroke="#a6c2e1" stroke-width="1"/>
<rect x="767.5" y="770.5" width="2" height="2.0" rx=".3" fill="#d6e7f9" stroke="#a6c2e1" stroke-width="1"/>
<rect x="771.5" y="771.5" width="2" height="1.0" rx=".3" fill="#d6e7f9" stroke="#a6c2e1" stroke-width="1"/>
<rect x="775.5" y="772.5" width="2" height="1.0" rx=".3" fill="#d6e7f9" stroke="#a6c2e1" stroke-width="1"/>
<rect x="779.5" y="772.5" width="2" height="4.0" rx=".3" fill="#d6e7f9" stroke="#a6c2e1" stroke-width="1"/>
<rect x="783.5" y="772.5" width="2" height="6.0" rx=".3" fill="#d6e7f9" stroke="#a6c2e1" stroke-width="1"/>
<rect x="787.5" y="772.5" width="2" height="6.0" rx=".3" fill="#d6e7f9" stroke="#a6c2e1" stroke-width="1"/>
<rect x="791.5" y="772.5" width="2" height="5.0" rx=".3" fill="#d6e7f9" stroke="#a6c2e1" stroke-width="1"/>
<rect x="795.5" y="772.5" width="2" height="5.0" rx=".3" fill="#d6e7f9" stroke="#a6c2e1" stroke-width="1"/>
<rect x="799.5" y="772.5" width="2" height="4.0" rx=".3" fill="#d6e7f9" stroke="#a6c2e1" stroke-width="1"/>
<rect x="803.5" y="772.5" width="3" height="3.0" rx=".3" fill="#d6e7f9" stroke="#a6c2e1" stroke-width="1"/>
<rect x="808.5" y="772.5" width="2" height="2.0" rx=".3" fill="#d6e7f9" stroke="#a6c2e1" stroke-width="1"/>
<rect x="812.5" y="771.5" width="2" height="1.0" rx=".3" fill="#d6e7f9" stroke="#a6c2e1" stroke-width="1"/>
<rect x="816.5" y="770.5" width="2" height="2.0" rx=".3" fill="#d6e7f9" stroke="#a6c2e1" stroke-width="1"/>
<rect x="820.5" y="770.5" width="2" height="2.0" rx=".3" fill="#d6e7f9" stroke="#a6c2e1" stroke-width="1"/>
<rect x="824.5" y="769.5" width="2" height="3.0" rx=".3" fill="#d6e7f9" stroke="#a6c2e1" stroke-width="1"/>
<rect x="828.5" y="771.5" width="2" height="1.0" rx=".3" fill="#d6e7f9" stroke="#a6c2e1" stroke-width="1"/>
<rect x="832.5" y="770.5" width="2" height="2.0" rx=".3" fill="#d6e7f9" stroke="#a6c2e1" stroke-width="1"/>
<rect x="836.5" y="770.5" width="2" height="2.0" rx=".3" fill="#d6e7f9" stroke="#a6c2e1" stroke-width="1"/>
<rect x="840.5" y="771.5" width="2" height="1.0" rx=".3" fill="#d6e7f9" stroke="#a6c2e1" stroke-width="1"/>
<rect x="844.5" y="772.5" width="3" height="1.0" rx=".3" fill="#d6e7f9" stroke="#a6c2e1" stroke-width="1"/>
<rect x="849.5" y="772.5" width="2" height="2.0" rx=".3" fill="#d6e7f9" stroke="#a6c2e1" stroke-width="1"/>
<rect x="853.5" y="772.5" width="2" height="3.0" rx=".3" fill="#d6e7f9" stroke="#a6c2e1" stroke-width="1"/>
<rect x="857.5" y="772.5" width="2" height="4.0" rx=".3" fill="#d6e7f9" stroke="#a6c2e1" stroke-width="1"/>
<rect x="861.5" y="772.5" width="2" height="3.0" rx=".3" fill="#d6e7f9" stroke="#a6c2e1" stroke-width="1"/>
<rect x="865.5" y="772.5" width="2" height="4.0" rx=".3" fill="#d6e7f9" stroke="#a6c2e1" stroke-width="1"/>
<rect x="869.5" y="772.5" width="2" height="3.0" rx=".3" fill="#d6e7f9" stroke="#a6c2e1" stroke-width="1"/>
<rect x="873.5" y="772.5" width="2" height="1.0" rx=".3" fill="#d6e7f9" stroke="#a6c2e1" stroke-width="1"/>
<rect x="877.5" y="772.5" width="2" height="3.0" rx=".3" fill="#d6e7f9" stroke="#a6c2e1" stroke-width="1"/>
<rect x="881.5" y="772.5" width="2" height="5.0" rx=".3" fill="#d6e7f9" stroke="#a6c2e1" stroke-width="1"/>
<rect x="885.5" y="772.5" width="3" height="6.0" rx=".3" fill="#d6e7f9" stroke="#a6c2e1" stroke-width="1"/>
<rect x="890.5" y="772.5" width="2" height="6.0" rx=".3" fill="#d6e7f9" stroke="#a6c2e1" stroke-width="1"/>
<rect x="894.5" y="772.5" width="2" height="6.0" rx=".3" fill="#d6e7f9" stroke="#a6c2e1" stroke-width="1"/>
<rect x="898.5" y="772.5" width="2" height="4.0" rx=".3" fill="#d6e7f9" stroke="#a6c2e1" stroke-width="1"/>
<rect x="902.5" y="772.5" width="2" height="2.0" rx=".3" fill="#d6e7f9" stroke="#a6c2e1" stroke-width="1"/>
<rect x="906.5" y="772.5" width="2" height="1.0" rx=".3" fill="#d6e7f9" stroke="#a6c2e1" stroke-width="1"/>
<rect x="910.5" y="769.5" width="2" height="3.0" rx=".3" fill="#d6e7f9" stroke="#a6c2e1" stroke-width="1"/>
<rect x="914.5" y="767.5" width="2" height="5.0" rx=".3" fill="#d6e7f9" stroke="#a6c2e1" stroke-width="1"/>
<rect x="918.5" y="755.5" width="2" height="17.0" rx=".3" fill="#d6e7f9" stroke="#a6c2e1" stroke-width="1"/>
<rect x="922.5" y="751.5" width="3" height="21.0" rx=".3" fill="#d6e7f9" stroke="#a6c2e1" stroke-width="1"/>
<rect x="927.5" y="748.5" width="2" height="24.0" rx=".3" fill="#d6e7f9" stroke="#a6c2e1" stroke-width="1"/>
<rect x="931.5" y="750.5" width="2" height="22.0" rx=".3" fill="#d6e7f9" stroke="#a6c2e1" stroke-width="1"/>
<rect x="935.5" y="756.5" width="2" height="16.0" rx=".3" fill="#d6e7f9" stroke="#a6c2e1" stroke-width="1"/>
<rect x="939.5" y="762.5" width="2" height="10.0" rx=".3" fill="#d6e7f9" stroke="#a6c2e1" stroke-width="1"/>
<rect x="943.5" y="765.5" width="2" height="7.0" rx=".3" fill="#d6e7f9" stroke="#a6c2e1" stroke-width="1"/>
<rect x="947.5" y="770.5" width="2" height="2.0" rx=".3" fill="#d6e7f9" stroke="#a6c2e1" stroke-width="1"/>
<rect x="951.5" y="772.5" width="2" height="2.0" rx=".3" fill="#d6e7f9" stroke="#a6c2e1" stroke-width="1"/>
<rect x="955.5" y="772.5" width="2" height="6.0" rx=".3" fill="#d6e7f9" stroke="#a6c2e1" stroke-width="1"/>
<rect x="959.5" y="772.5" width="2" height="10.0" rx=".3" fill="#d6e7f9" stroke="#a6c2e1" stroke-width="1"/>
<rect x="963.5" y="772.5" width="3" height="10.0" rx=".3" fill="#d6e7f9" stroke="#a6c2e1" stroke-width="1"/>
<rect x="968.5" y="772.5" width="2" height="9.0" rx=".3" fill="#d6e7f9" stroke="#a6c2e1" stroke-width="1"/>
<rect x="972.5" y="772.5" width="2" height="9.0" rx=".3" fill="#d6e7f9" stroke="#a6c2e1" stroke-width="1"/>
<rect x="976.5" y="772.5" width="2" height="9.0" rx=".3" fill="#d6e7f9" stroke="#a6c2e1" stroke-width="1"/>
<rect x="980.5" y="772.5" width="2" height="8.0" rx=".3" fill="#d6e7f9" stroke="#a6c2e1" stroke-width="1"/>
<rect x="984.5" y="772.5" width="2" height="7.0" rx=".3" fill="#d6e7f9" stroke="#a6c2e1" stroke-width="1"/>
<rect x="988.5" y="772.5" width="2" height="7.0" rx=".3" fill="#d6e7f9" stroke="#a6c2e1" stroke-width="1"/>
<rect x="992.5" y="772.5" width="2" height="8.0" rx=".3" fill="#d6e7f9" stroke="#a6c2e1" stroke-width="1"/>
<rect x="996.5" y="772.5" width="2" height="5.0" rx=".3" fill="#d6e7f9" stroke="#a6c2e1" stroke-width="1"/>
<rect x="1000.5" y="772.5" width="2" height="1.0" rx=".3" fill="#d6e7f9" stroke="#a6c2e1" stroke-width="1"/>
<rect x="1004.5" y="772.5" width="3" height="1.0" rx=".3" fill="#d6e7f9" stroke="#a6c2e1" stroke-width="1"/>
<rect x="1009.5" y="772.5" width="2" height="1.0" rx=".3" fill="#d6e7f9" stroke="#a6c2e1" stroke-width="1"/>
<rect x="1013.5" y="772.5" width="2" height="1.0" rx=".3" fill="#d6e7f9" stroke="#a6c2e1" stroke-width="1"/>
<rect x="1017.5" y="771.5" width="2" height="1.0" rx=".3" fill="#d6e7f9" stroke="#a6c2e1" stroke-width="1"/>
<rect x="1021.5" y="770.5" width="2" height="2.0" rx=".3" fill="#d6e7f9" stroke="#a6c2e1" stroke-width="1"/>
<rect x="1025.5" y="768.5" width="2" height="4.0" rx=".3" fill="#d6e7f9" stroke="#a6c2e1" stroke-width="1"/>
<rect x="1029.5" y="767.5" width="2" height="5.0" rx=".3" fill="#d6e7f9" stroke="#a6c2e1" stroke-width="1"/>
<rect x="1033.5" y="767.5" width="2" height="5.0" rx=".3" fill="#d6e7f9" stroke="#a6c2e1" stroke-width="1"/>
<rect x="1037.5" y="768.5" width="2" height="4.0" rx=".3" fill="#d6e7f9" stroke="#a6c2e1" stroke-width="1"/>
<rect x="1041.5" y="769.5" width="2" height="3.0" rx=".3" fill="#d6e7f9" stroke="#a6c2e1" stroke-width="1"/>
<rect x="1045.5" y="771.5" width="3" height="1.0" rx=".3" fill="#d6e7f9" stroke="#a6c2e1" stroke-width="1"/>
<rect x="1050.5" y="771.5" width="2" height="1.0" rx=".3" fill="#d6e7f9" stroke="#a6c2e1" stroke-width="1"/>
<rect x="1054.5" y="772.5" width="2" height="2.0" rx=".3" fill="#d6e7f9" stroke="#a6c2e1" stroke-width="1"/>
<rect x="1058.5" y="772.5" width="2" height="4.0" rx=".3" fill="#d6e7f9" stroke="#a6c2e1" stroke-width="1"/>
<rect x="1062.5" y="772.5" width="2" height="6.0" rx=".3" fill="#d6e7f9" stroke="#a6c2e1" stroke-width="1"/>
<rect x="1066.5" y="772.5" width="2" height="7.0" rx=".3" fill="#d6e7f9" stroke="#a6c2e1" stroke-width="1"/>
<rect x="1070.5" y="772.5" width="2" height="10.0" rx=".3" fill="#d6e7f9" stroke="#a6c2e1" stroke-width="1"/>
<rect x="1074.5" y="772.5" width="2" height="12.0" rx=".3" fill="#d6e7f9" stroke="#a6c2e1" stroke-width="1"/>
<rect x="1078.5" y="772.5" width="2" height="13.0" rx=".3" fill="#d6e7f9" stroke="#a6c2e1" stroke-width="1"/>
<rect x="1082.5" y="772.5" width="3" height="13.0" rx=".3" fill="#d6e7f9" stroke="#a6c2e1" stroke-width="1"/>
<rect x="1087.5" y="772.5" width="2" height="11.0" rx=".3" fill="#d6e7f9" stroke="#a6c2e1" stroke-width="1"/>
<rect x="1091.5" y="772.5" width="2" height="9.0" rx=".3" fill="#d6e7f9" stroke="#a6c2e1" stroke-width="1"/>
<rect x="1095.5" y="772.5" width="2" height="7.0" rx=".3" fill="#d6e7f9" stroke="#a6c2e1" stroke-width="1"/>
<rect x="1099.5" y="772.5" width="2" height="6.0" rx=".3" fill="#d6e7f9" stroke="#a6c2e1" stroke-width="1"/>
<rect x="1103.5" y="772.5" width="2" height="4.0" rx=".3" fill="#d6e7f9" stroke="#a6c2e1" stroke-width="1"/>
<rect x="1107.5" y="772.5" width="2" height="1.0" rx=".3" fill="#d6e7f9" stroke="#a6c2e1" stroke-width="1"/>
<rect x="1111.5" y="771.5" width="2" height="1.0" rx=".3" fill="#d6e7f9" stroke="#a6c2e1" stroke-width="1"/>
<rect x="1115.5" y="770.5" width="2" height="2.0" rx=".3" fill="#d6e7f9" stroke="#a6c2e1" stroke-width="1"/>
<rect x="1119.5" y="769.5" width="2" height="3.0" rx=".3" fill="#d6e7f9" stroke="#a6c2e1" stroke-width="1"/>
<rect x="1123.5" y="768.5" width="3" height="4.0" rx=".3" fill="#d6e7f9" stroke="#a6c2e1" stroke-width="1"/>
<rect x="1128.5" y="768.5" width="2" height="4.0" rx=".3" fill="#d6e7f9" stroke="#a6c2e1" stroke-width="1"/>
<rect x="1132.5" y="770.5" width="2" height="2.0" rx=".3" fill="#d6e7f9" stroke="#a6c2e1" stroke-width="1"/>
<rect x="1136.5" y="768.5" width="2" height="4.0" rx=".3" fill="#d6e7f9" stroke="#a6c2e1" stroke-width="1"/>
<rect x="1140.5" y="767.5" width="2" height="5.0" rx=".3" fill="#d6e7f9" stroke="#a6c2e1" stroke-width="1"/>
<rect x="1144.5" y="765.5" width="2" height="7.0" rx=".3" fill="#d6e7f9" stroke="#a6c2e1" stroke-width="1"/>
<rect x="1148.5" y="764.5" width="2" height="8.0" rx=".3" fill="#d6e7f9" stroke="#a6c2e1" stroke-width="1"/>
<rect x="1152.5" y="763.5" width="2" height="9.0" rx=".3" fill="#d6e7f9" stroke="#a6c2e1" stroke-width="1"/>
<rect x="1156.5" y="763.5" width="2" height="9.0" rx=".3" fill="#d6e7f9" stroke="#a6c2e1" stroke-width="1"/>
<rect x="1160.5" y="762.5" width="2" height="10.0" rx=".3" fill="#d6e7f9" stroke="#a6c2e1" stroke-width="1"/>
<rect x="1164.5" y="763.5" width="3" height="9.0" rx=".3" fill="#d6e7f9" stroke="#a6c2e1" stroke-width="1"/>
<rect x="1169.5" y="765.5" width="2" height="7.0" rx=".3" fill="#d6e7f9" stroke="#a6c2e1" stroke-width="1"/>
<rect x="1173.5" y="768.5" width="2" height="4.0" rx=".3" fill="#d6e7f9" stroke="#a6c2e1" stroke-width="1"/>
<rect x="1177.5" y="769.5" width="2" height="3.0" rx=".3" fill="#d6e7f9" stroke="#a6c2e1" stroke-width="1"/>
<rect x="1181.5" y="770.5" width="2" height="2.0" rx=".3" fill="#d6e7f9" stroke="#a6c2e1" stroke-width="1"/>
<rect x="1185.5" y="771.5" width="2" height="1.0" rx=".3" fill="#d6e7f9" stroke="#a6c2e1" stroke-width="1"/>
<rect x="1189.5" y="772.5" width="2" height="1.0" rx=".3" fill="#d6e7f9" stroke="#a6c2e1" stroke-width="1"/>
<rect x="1193.5" y="772.5" width="2" height="2.0" rx=".3" fill="#d6e7f9" stroke="#a6c2e1" stroke-width="1"/>
<rect x="1197.5" y="772.5" width="2" height="2.0" rx=".3" fill="#d6e7f9" stroke="#a6c2e1" stroke-width="1"/>
<rect x="1201.5" y="772.5" width="3" height="3.0" rx=".3" fill="#d6e7f9" stroke="#a6c2e1" stroke-width="1"/>
<rect x="1206.5" y="772.5" width="2" height="2.0" rx=".3" fill="#d6e7f9" stroke="#a6c2e1" stroke-width="1"/>
<rect x="1210.5" y="772.5" width="2" height="2.0" rx=".3" fill="#d6e7f9" stroke="#a6c2e1" stroke-width="1"/>
<rect x="1214.5" y="772.5" width="2" height="1.0" rx=".3" fill="#d6e7f9" stroke="#a6c2e1" stroke-width="1"/>
<rect x="1218.5" y="772.5" width="2" height="2.0" rx=".3" fill="#d6e7f9" stroke="#a6c2e1" stroke-width="1"/>
<rect x="1222.5" y="772.5" width="2" height="2.0" rx=".3" fill="#d6e7f9" stroke="#a6c2e1" stroke-width="1"/>
<rect x="1226.5" y="772.5" width="2" height="1.0" rx=".3" fill="#d6e7f9" stroke="#a6c2e1" stroke-width="1"/>
<rect x="1230.5" y="772.5" width="2" height="1.0" rx=".3" fill="#d6e7f9" stroke="#a6c2e1" stroke-width="1"/>
<rect x="1234.5" y="772.5" width="2" height="1.0" rx=".3" fill="#d6e7f9" stroke="#a6c2e1" stroke-width="1"/>
<rect x="1238.5" y="772.5" width="2" height="1.0" rx=".3" fill="#d6e7f9" stroke="#a6c2e1" stroke-width="1"/>
<rect x="1242.5" y="771.5" width="3" height="1.0" rx=".3" fill="#d6e7f9" stroke="#a6c2e1" stroke-width="1"/>
<rect x="1247.5" y="771.5" width="2" height="1.0" rx=".3" fill="#d6e7f9" stroke="#a6c2e1" stroke-width="1"/>
<rect x="1251.5" y="770.5" width="2" height="2.0" rx=".3" fill="#d6e7f9" stroke="#a6c2e1" stroke-width="1"/>
<rect x="1255.5" y="770.5" width="2" height="2.0" rx=".3" fill="#d6e7f9" stroke="#a6c2e1" stroke-width="1"/>
<rect x="1259.5" y="771.5" width="2" height="1.0" rx=".3" fill="#d6e7f9" stroke="#a6c2e1" stroke-width="1"/>
<rect x="1263.5" y="771.5" width="2" height="1.0" rx=".3" fill="#d6e7f9" stroke="#a6c2e1" stroke-width="1"/>
<rect x="1267.5" y="771.5" width="2" height="1.0" rx=".3" fill="#d6e7f9" stroke="#a6c2e1" stroke-width="1"/>
<rect x="1271.5" y="771.5" width="2" height="1.0" rx=".3" fill="#d6e7f9" stroke="#a6c2e1" stroke-width="1"/>
<rect x="1275.5" y="771.5" width="2" height="1.0" rx=".3" fill="#d6e7f9" stroke="#a6c2e1" stroke-width="1"/>
<rect x="1279.5" y="770.5" width="2" height="2.0" rx=".3" fill="#d6e7f9" stroke="#a6c2e1" stroke-width="1"/>
<rect x="1283.5" y="770.5" width="3" height="2.0" rx=".3" fill="#d6e7f9" stroke="#a6c2e1" stroke-width="1"/>
<rect x="1288.5" y="771.5" width="2" height="1.0" rx=".3" fill="#d6e7f9" stroke="#a6c2e1" stroke-width="1"/>
<rect x="1292.5" y="772.5" width="2" height="1.0" rx=".3" fill="#d6e7f9" stroke="#a6c2e1" stroke-width="1"/>
<rect x="1296.5" y="771.5" width="2" height="1.0" rx=".3" fill="#d6e7f9" stroke="#a6c2e1" stroke-width="1"/>
<rect x="1300.5" y="772.5" width="2" height="1.0" rx=".3" fill="#d6e7f9" stroke="#a6c2e1" stroke-width="1"/>
<rect x="1304.5" y="772.5" width="2" height="1.0" rx=".3" fill="#d6e7f9" stroke="#a6c2e1" stroke-width="1"/>
<rect x="1308.5" y="772.5" width="2" height="1.0" rx=".3" fill="#d6e7f9" stroke="#a6c2e1" stroke-width="1"/>
<rect x="1312.5" y="772.5" width="2" height="2.0" rx=".3" fill="#d6e7f9" stroke="#a6c2e1" stroke-width="1"/>
<rect x="1316.5" y="772.5" width="2" height="2.0" rx=".3" fill="#d6e7f9" stroke="#a6c2e1" stroke-width="1"/>
<rect x="1320.5" y="772.5" width="2" height="2.0" rx=".3" fill="#d6e7f9" stroke="#a6c2e1" stroke-width="1"/>
<rect x="1324.5" y="772.5" width="3" height="2.0" rx=".3" fill="#d6e7f9" stroke="#a6c2e1" stroke-width="1"/>
<rect x="1329.5" y="772.5" width="2" height="2.0" rx=".3" fill="#d6e7f9" stroke="#a6c2e1" stroke-width="1"/>
<rect x="1333.5" y="772.5" width="2" height="1.0" rx=".3" fill="#d6e7f9" stroke="#a6c2e1" stroke-width="1"/>
<rect x="1337.5" y="772.5" width="2" height="1.0" rx=".3" fill="#d6e7f9" stroke="#a6c2e1" stroke-width="1"/>
<rect x="1341.5" y="772.5" width="2" height="1.0" rx=".3" fill="#d6e7f9" stroke="#a6c2e1" stroke-width="1"/>
<rect x="1345.5" y="772.5" width="2" height="1.0" rx=".3" fill="#d6e7f9" stroke="#a6c2e1" stroke-width="1"/>
<rect x="1349.5" y="772.5" width="2" height="2.0" rx=".3" fill="#d6e7f9" stroke="#a6c2e1" stroke-width="1"/>
<rect x="1353.5" y="772.5" width="2" height="1.0" rx=".3" fill="#d6e7f9" stroke="#a6c2e1" stroke-width="1"/>
<rect x="1357.5" y="772.5" width="2" height="1.0" rx=".3" fill="#d6e7f9" stroke="#a6c2e1" stroke-width="1"/>
<rect x="1361.5" y="772.5" width="3" height="2.0" rx=".3" fill="#d6e7f9" stroke="#a6c2e1" stroke-width="1"/>
<rect x="1366.5" y="772.5" width="2" height="3.0" rx=".3" fill="#d6e7f9" stroke="#a6c2e1" stroke-width="1"/>
<rect x="1370.5" y="772.5" width="2" height="2.0" rx=".3" fill="#d6e7f9" stroke="#a6c2e1" stroke-width="1"/>
<rect x="1374.5" y="772.5" width="2" height="1.0" rx=".3" fill="#d6e7f9" stroke="#a6c2e1" stroke-width="1"/>
<rect x="1378.5" y="772.5" width="2" height="1.0" rx=".3" fill="#d6e7f9" stroke="#a6c2e1" stroke-width="1"/>
<rect x="1382.5" y="771.5" width="2" height="1.0" rx=".3" fill="#d6e7f9" stroke="#a6c2e1" stroke-width="1"/>
<rect x="1386.5" y="771.5" width="2" height="1.0" rx=".3" fill="#d6e7f9" stroke="#a6c2e1" stroke-width="1"/>
<rect x="1390.5" y="769.5" width="2" height="3.0" rx=".3" fill="#d6e7f9" stroke="#a6c2e1" stroke-width="1"/>
<rect x="1394.5" y="766.5" width="2" height="6.0" rx=".3" fill="#d6e7f9" stroke="#a6c2e1" stroke-width="1"/>
</g>
<polyline points="0.5,770.3 4.5,770.2 8.5,769.5 13.5,769.3 17.5,768.9 21.5,768.7 25.5,768.7 29.5,769.3 33.5,769.1 37.5,768.9 41.5,769.0 45.5,769.6 50.5,770.1 54.5,769.3 58.5,769.2 62.5,768.9 66.5,768.4 70.5,768.0 74.5,767.3 78.5,766.9 82.5,766.6 86.5,766.6 91.5,766.5 95.5,755.7 99.5,744.8 103.5,736.5 107.5,729.1 111.5,727.2 115.5,724.8 119.5,721.9 123.5,719.3 127.5,717.9 132.5,721.5 136.5,725.5 140.5,730.9 144.5,732.2 148.5,731.9 152.5,732.5 156.5,727.1 160.5,716.5 164.5,709.7 168.5,710.7 173.5,710.8 177.5,707.5 181.5,709.1 185.5,712.3 189.5,718.2 193.5,723.8 197.5,731.7 201.5,738.2 205.5,748.0 210.5,756.2 214.5,766.4 218.5,779.4 222.5,790.6 226.5,799.6 230.5,807.0 234.5,815.1 238.5,819.3 242.5,823.2 246.5,825.0 251.5,823.5 255.5,824.9 259.5,827.4 263.5,829.2 267.5,827.3 271.5,823.0 275.5,817.8 279.5,812.1 283.5,808.9 287.5,807.0 292.5,804.9 296.5,802.8 300.5,801.2 304.5,801.4 308.5,801.0 312.5,801.6 316.5,803.7 320.5,805.0 324.5,806.8 329.5,806.7 333.5,806.4 337.5,806.0 341.5,804.4 345.5,802.7 349.5,800.5 353.5,800.9 357.5,800.8 361.5,801.7 365.5,803.0 370.5,803.3 374.5,804.8 378.5,803.4 382.5,804.9 386.5,804.7 390.5,803.3 394.5,802.0 398.5,800.6 402.5,799.9 406.5,799.3 411.5,799.1 415.5,796.9 419.5,795.1 423.5,793.0 427.5,791.1 431.5,789.3 435.5,783.8 439.5,780.9 443.5,775.1 447.5,770.3 452.5,763.1 456.5,760.4 460.5,757.8 464.5,754.8 468.5,752.9 472.5,750.4 476.5,747.2 480.5,743.5 484.5,742.4 489.5,743.5 493.5,744.5 497.5,745.7 501.5,746.1 505.5,747.8 509.5,749.5 513.5,751.6 517.5,753.7 521.5,755.8 525.5,757.9 530.5,760.1 534.5,762.6 538.5,766.5 542.5,771.2 546.5,775.4 550.5,778.5 554.5,780.6 558.5,782.7 562.5,784.4 566.5,785.1 571.5,785.0 575.5,784.9 579.5,785.3 583.5,783.0 587.5,781.2 591.5,780.6 595.5,779.2 599.5,777.8 603.5,775.9 607.5,776.3 612.5,776.5 616.5,776.6 620.5,777.1 624.5,778.8 628.5,779.5 632.5,776.4 636.5,773.9 640.5,772.1 644.5,772.5 649.5,774.3 653.5,775.9 657.5,777.4 661.5,779.6 665.5,778.5 669.5,779.4 673.5,781.0 677.5,780.4 681.5,779.6 685.5,779.8 690.5,779.8 694.5,779.5 698.5,779.7 702.5,779.3 706.5,774.3 710.5,771.3 714.5,768.0 718.5,765.7 722.5,764.7 726.5,763.4 731.5,762.2 735.5,763.6 739.5,762.7 743.5,762.5 747.5,760.1 751.5,758.5 755.5,756.6 759.5,754.8 763.5,756.0 768.5,757.0 772.5,757.9 776.5,760.2 780.5,764.6 784.5,768.2 788.5,769.6 792.5,770.2 796.5,770.6 800.5,770.4 804.5,770.4 809.5,769.7 813.5,767.1 817.5,764.8 821.5,764.4 825.5,763.4 829.5,764.2 833.5,763.2 837.5,762.1 841.5,763.7 845.5,764.8 850.5,766.4 854.5,768.7 858.5,770.1 862.5,770.8 866.5,772.2 870.5,771.5 874.5,770.8 878.5,772.7 882.5,775.8 886.5,778.1 891.5,780.4 895.5,781.1 899.5,780.3 903.5,778.7 907.5,777.4 911.5,773.8 915.5,770.4 919.5,754.4 923.5,744.3 928.5,736.3 932.5,732.8 936.5,734.6 940.5,737.7 944.5,739.4 948.5,743.1 952.5,748.5 956.5,753.7 960.5,760.1 964.5,763.2 969.5,763.6 973.5,766.2 977.5,768.9 981.5,769.3 985.5,770.7 989.5,772.2 993.5,774.7 997.5,773.2 1001.5,769.3 1005.5,769.2 1010.5,769.0 1014.5,769.2 1018.5,768.5 1022.5,766.3 1026.5,763.7 1030.5,761.6 1034.5,760.5 1038.5,760.2 1042.5,760.6 1046.5,762.4 1051.5,763.0 1055.5,765.6 1059.5,768.4 1063.5,772.1 1067.5,774.9 1071.5,780.7 1075.5,785.2 1079.5,789.2 1083.5,792.8 1088.5,794.1 1092.5,793.6 1096.5,793.8 1100.5,794.3 1104.5,793.0 1108.5,790.5 1112.5,788.6 1116.5,787.1 1120.5,784.7 1124.5,783.6 1129.5,782.6 1133.5,783.1 1137.5,780.3 1141.5,777.7 1145.5,774.2 1149.5,770.8 1153.5,768.1 1157.5,765.2 1161.5,762.6 1165.5,761.5 1170.5,761.1 1174.5,762.7 1178.5,763.9 1182.5,764.0 1186.5,765.2 1190.5,766.3 1194.5,768.1 1198.5,769.1 1202.5,770.3 1207.5,770.0 1211.5,770.0 1215.5,769.7 1219.5,771.0 1223.5,771.4 1227.5,771.4 1231.5,771.5 1235.5,771.5 1239.5,771.3 1243.5,769.0 1248.5,768.7 1252.5,767.2 1256.5,767.2 1260.5,767.9 1264.5,768.0 1268.5,768.4 1272.5,768.2 1276.5,767.8 1280.5,765.7 1284.5,765.9 1289.5,766.5 1293.5,767.3 1297.5,766.9 1301.5,767.3 1305.5,767.4 1309.5,768.9 1313.5,769.6 1317.5,771.0 1321.5,771.3 1325.5,772.0 1330.5,771.9 1334.5,770.8 1338.5,771.6 1342.5,771.6 1346.5,772.0 1350.5,773.2 1354.5,772.6 1358.5,772.1 1362.5,773.8 1367.5,775.7 1371.5,775.6 1375.5,775.2 1379.5,774.5 1383.5,773.0 1387.5,772.8 1391.5,770.0 1395.5,764.9" fill="none" stroke="#5d5884" stroke-width="2" stroke-linejoin="round" stroke-linecap="round"/>
<polyline points="0.5,774.3 4.5,773.5 8.5,772.7 13.5,772.0 17.5,771.4 21.5,770.8 25.5,770.4 29.5,770.2 33.5,770.0 37.5,769.8 41.5,769.6 45.5,769.6 50.5,769.7 54.5,769.6 58.5,769.5 62.5,769.4 66.5,769.2 70.5,769.0 74.5,768.6 78.5,768.3 82.5,767.9 86.5,767.7 91.5,767.4 95.5,765.1 99.5,761.0 103.5,756.1 107.5,750.7 111.5,746.0 115.5,741.8 119.5,737.8 123.5,734.1 127.5,730.9 132.5,729.0 136.5,728.3 140.5,728.8 144.5,729.5 148.5,730.0 152.5,730.5 156.5,729.8 160.5,727.1 164.5,723.6 168.5,721.1 173.5,719.0 177.5,716.7 181.5,715.2 185.5,714.6 189.5,715.3 193.5,717.0 197.5,720.0 201.5,723.6 205.5,728.5 210.5,734.0 214.5,740.5 218.5,748.3 222.5,756.7 226.5,765.3 230.5,773.6 234.5,781.9 238.5,789.4 242.5,796.2 246.5,801.9 251.5,806.3 255.5,810.0 259.5,813.4 263.5,816.6 267.5,818.8 271.5,819.6 275.5,819.2 279.5,817.8 283.5,816.0 287.5,814.2 292.5,812.4 296.5,810.4 300.5,808.6 304.5,807.2 308.5,805.9 312.5,805.1 316.5,804.8 320.5,804.8 324.5,805.2 329.5,805.5 333.5,805.7 337.5,805.7 341.5,805.5 345.5,804.9 349.5,804.0 353.5,803.4 357.5,802.9 361.5,802.7 365.5,802.7 370.5,802.8 374.5,803.2 378.5,803.3 382.5,803.6 386.5,803.8 390.5,803.7 394.5,803.4 398.5,802.8 402.5,802.2 406.5,801.6 411.5,801.1 415.5,800.3 419.5,799.2 423.5,798.0 427.5,796.6 431.5,795.2 435.5,792.9 439.5,790.5 443.5,787.4 447.5,784.0 452.5,779.8 456.5,775.9 460.5,772.3 464.5,768.8 468.5,765.6 472.5,762.6 476.5,759.5 480.5,756.3 484.5,753.5 489.5,751.5 493.5,750.1 497.5,749.2 501.5,748.6 505.5,748.4 509.5,748.7 513.5,749.3 517.5,750.1 521.5,751.3 525.5,752.6 530.5,754.1 534.5,755.8 538.5,757.9 542.5,760.6 546.5,763.5 550.5,766.5 554.5,769.3 558.5,772.0 562.5,774.5 566.5,776.6 571.5,778.3 575.5,779.6 579.5,780.7 583.5,781.2 587.5,781.2 591.5,781.1 595.5,780.7 599.5,780.1 603.5,779.3 607.5,778.7 612.5,778.2 616.5,777.9 620.5,777.8 624.5,778.0 628.5,778.3 632.5,777.9 636.5,777.1 640.5,776.1 644.5,775.4 649.5,775.2 653.5,775.3 657.5,775.7 661.5,776.5 665.5,776.9 669.5,777.4 673.5,778.1 677.5,778.6 681.5,778.8 685.5,779.0 690.5,779.1 694.5,779.2 698.5,779.3 702.5,779.3 706.5,778.3 710.5,776.9 714.5,775.1 718.5,773.2 722.5,771.5 726.5,769.9 731.5,768.4 735.5,767.4 739.5,766.5 743.5,765.7 747.5,764.6 751.5,763.4 755.5,762.0 759.5,760.6 763.5,759.6 768.5,759.1 772.5,758.9 776.5,759.1 780.5,760.2 784.5,761.8 788.5,763.4 792.5,764.7 796.5,765.9 800.5,766.8 804.5,767.5 809.5,768.0 813.5,767.8 817.5,767.2 821.5,766.6 825.5,766.0 829.5,765.6 833.5,765.1 837.5,764.5 841.5,764.4 845.5,764.5 850.5,764.8 854.5,765.6 858.5,766.5 862.5,767.4 866.5,768.3 870.5,769.0 874.5,769.3 878.5,770.0 882.5,771.2 886.5,772.5 891.5,774.1 895.5,775.5 899.5,776.5 903.5,776.9 907.5,777.0 911.5,776.4 915.5,775.2 919.5,771.0 923.5,765.7 928.5,759.8 932.5,754.4 936.5,750.4 940.5,747.9 944.5,746.2 948.5,745.6 952.5,746.2 956.5,747.7 960.5,750.1 964.5,752.7 969.5,754.9 973.5,757.2 977.5,759.5 981.5,761.5 985.5,763.3 989.5,765.1 993.5,767.0 997.5,768.3 1001.5,768.5 1005.5,768.6 1010.5,768.7 1014.5,768.8 1018.5,768.7 1022.5,768.2 1026.5,767.3 1030.5,766.2 1034.5,765.1 1038.5,764.1 1042.5,763.4 1046.5,763.2 1051.5,763.2 1055.5,763.6 1059.5,764.6 1063.5,766.1 1067.5,767.8 1071.5,770.4 1075.5,773.4 1079.5,776.5 1083.5,779.8 1088.5,782.6 1092.5,784.8 1096.5,786.6 1100.5,788.2 1104.5,789.1 1108.5,789.4 1112.5,789.2 1116.5,788.8 1120.5,788.0 1124.5,787.1 1129.5,786.2 1133.5,785.6 1137.5,784.5 1141.5,783.2 1145.5,781.4 1149.5,779.2 1153.5,777.0 1157.5,774.6 1161.5,772.2 1165.5,770.1 1170.5,768.3 1174.5,767.2 1178.5,766.5 1182.5,766.0 1186.5,765.9 1190.5,765.9 1194.5,766.4 1198.5,766.9 1202.5,767.6 1207.5,768.1 1211.5,768.5 1215.5,768.7 1219.5,769.2 1223.5,769.6 1227.5,770.0 1231.5,770.3 1235.5,770.5 1239.5,770.7 1243.5,770.4 1248.5,770.0 1252.5,769.5 1256.5,769.0 1260.5,768.8 1264.5,768.6 1268.5,768.6 1272.5,768.5 1276.5,768.4 1280.5,767.8 1284.5,767.4 1289.5,767.2 1293.5,767.3 1297.5,767.2 1301.5,767.2 1305.5,767.2 1309.5,767.6 1313.5,768.0 1317.5,768.6 1321.5,769.1 1325.5,769.7 1330.5,770.1 1334.5,770.3 1338.5,770.5 1342.5,770.7 1346.5,771.0 1350.5,771.4 1354.5,771.7 1358.5,771.8 1362.5,772.2 1367.5,772.9 1371.5,773.4 1375.5,773.8 1379.5,773.9 1383.5,773.7 1387.5,773.6 1391.5,772.8 1395.5,771.3" fill="none" stroke="#96367a" stroke-width="2" stroke-linejoin="round" stroke-linecap="round"/>
</g>
<g shape-rendering="crispEdges">
<rect x="923" y="696" width="3" height="1" fill="#c51b14"/>
<rect x="928" y="696" width="3" height="1" fill="#c51b14"/>
<rect x="932" y="696" width="3" height="1" fill="#c51b14"/>
<rect x="936" y="696" width="3" height="1" fill="#c51b14"/>
<rect x="940" y="696" width="3" height="1" fill="#c51b14"/>
<rect x="944" y="696" width="3" height="1" fill="#2d8a1e"/>
<rect x="948" y="696" width="3" height="1" fill="#c51b14"/>
<rect x="952" y="696" width="3" height="1" fill="#c51b14"/>
<rect x="956" y="696" width="3" height="1" fill="#c51b14"/>
<rect x="960" y="696" width="3" height="1" fill="#c51b14"/>
<rect x="964" y="696" width="3" height="1" fill="#2d8a1e"/>
<rect x="969" y="696" width="3" height="1" fill="#2d8a1e"/>
<rect x="973" y="696" width="3" height="1" fill="#c51b14"/>
<rect x="977" y="696" width="3" height="1" fill="#c51b14"/>
<rect x="981" y="696" width="3" height="1" fill="#2d8a1e"/>
<rect x="985" y="696" width="3" height="1" fill="#c51b14"/>
<rect x="989" y="696" width="3" height="1" fill="#c51b14"/>
<rect x="993" y="696" width="3" height="1" fill="#c51b14"/>
<rect x="997" y="696" width="3" height="1" fill="#2d8a1e"/>
<rect x="1001" y="696" width="3" height="1" fill="#2d8a1e"/>
<rect x="1005" y="696" width="3" height="1" fill="#c51b14"/>
<rect x="1010" y="696" width="3" height="1" fill="#c51b14"/>
<rect x="1014" y="696" width="3" height="1" fill="#2d8a1e"/>
<rect x="1018" y="696" width="3" height="1" fill="#2d8a1e"/>
<rect x="1022" y="696" width="3" height="1" fill="#2d8a1e"/>
<rect x="1026" y="696" width="3" height="1" fill="#2d8a1e"/>
<rect x="1030" y="696" width="3" height="1" fill="#c51b14"/>
<rect x="32" y="694" width="3" height="2" fill="#2d8a1e"/>
<rect x="36" y="694" width="3" height="2" fill="#2d8a1e"/>
<rect x="53" y="694" width="3" height="2" fill="#2d8a1e"/>
<rect x="94" y="694" width="3" height="2" fill="#2d8a1e"/>
<rect x="98" y="694" width="3" height="2" fill="#2d8a1e"/>
<rect x="143" y="694" width="3" height="2" fill="#2d8a1e"/>
<rect x="151" y="694" width="3" height="2" fill="#c51b14"/>
<rect x="155" y="694" width="3" height="2" fill="#2d8a1e"/>
<rect x="159" y="694" width="3" height="2" fill="#2d8a1e"/>
<rect x="163" y="694" width="3" height="2" fill="#c51b14"/>
<rect x="196" y="694" width="3" height="2" fill="#c51b14"/>
<rect x="213" y="694" width="3" height="2" fill="#c51b14"/>
<rect x="315" y="694" width="3" height="2" fill="#c51b14"/>
<rect x="434" y="694" width="3" height="2" fill="#2d8a1e"/>
<rect x="451" y="694" width="3" height="2" fill="#2d8a1e"/>
<rect x="705" y="694" width="3" height="2" fill="#2d8a1e"/>
<rect x="865" y="694" width="3" height="2" fill="#2d8a1e"/>
<rect x="918" y="632" width="3" height="65" fill="#c51b14"/><rect x="919" y="633" width="1" height="63" fill="#f05858"/>
</g>
<polyline points="0,696 917.5,696 920.5,694 1032.5,694 1035.5,696 1396.7,696" fill="none" stroke="#2899c6" stroke-width="2.1"/>
<g shape-rendering="crispEdges">
<rect x="0" y="626" width="1805" height="3" fill="#e0e0e0"/>
<rect x="0" y="697" width="1805" height="3" fill="#e0e0e0"/>
<rect x="1752" y="0" width="1" height="626" fill="#d8d8d8"/>
<rect x="1752" y="629" width="1" height="68" fill="#d8d8d8"/>
<rect x="1752" y="700" width="1" height="134" fill="#d8d8d8"/>
<rect x="18" y="623" width="1" height="3" fill="#333"/>
<rect x="100" y="623" width="1" height="3" fill="#333"/>
<rect x="190" y="623" width="1" height="3" fill="#333"/>
<rect x="280" y="623" width="1" height="3" fill="#333"/>
<rect x="366" y="623" width="1" height="3" fill="#333"/>
<rect x="453" y="623" width="1" height="3" fill="#333"/>
<rect x="543" y="623" width="1" height="3" fill="#333"/>
<rect x="625" y="623" width="1" height="3" fill="#333"/>
<rect x="715" y="623" width="1" height="3" fill="#333"/>
<rect x="793" y="623" width="1" height="3" fill="#333"/>
<rect x="871" y="623" width="1" height="3" fill="#333"/>
<rect x="965" y="623" width="1" height="3" fill="#333"/>
<rect x="1052" y="623" width="1" height="3" fill="#333"/>
<rect x="1134" y="623" width="1" height="3" fill="#333"/>
<rect x="1224" y="623" width="1" height="3" fill="#333"/>
<rect x="1310" y="623" width="1" height="3" fill="#333"/>
</g>
<text x="8" y="619" font-size="12" fill="#444">Mai</text>
<text x="100.1" y="619" font-size="12" fill="#444" text-anchor="middle">Jun</text>
<text x="190.1" y="619" font-size="12" fill="#444" text-anchor="middle">Jul</text>
<text x="280.1" y="619" font-size="12" fill="#444" text-anchor="middle">Aug</text>
<text x="366.1" y="619" font-size="12" fill="#444" text-anchor="middle">Sep</text>
<text x="453.1" y="619" font-size="12" fill="#444" text-anchor="middle">Okt</text>
<text x="543.1" y="619" font-size="12" fill="#444" text-anchor="middle">Nov</text>
<text x="625.1" y="619" font-size="12" fill="#444" text-anchor="middle">Dez</text>
<text x="715.1" y="619" font-size="12" fill="#444" text-anchor="middle">Jan '21</text>
<text x="793.1" y="619" font-size="12" fill="#444" text-anchor="middle">Feb</text>
<text x="871.1" y="619" font-size="12" fill="#444" text-anchor="middle">Mär</text>
<text x="965.1" y="619" font-size="12" fill="#444" text-anchor="middle">Apr</text>
<text x="1052.1" y="619" font-size="12" fill="#444" text-anchor="middle">Mai</text>
<text x="1134.1" y="619" font-size="12" fill="#444" text-anchor="middle">Jun</text>
<text x="1224.1" y="619" font-size="12" fill="#444" text-anchor="middle">Jul</text>
<text x="1310.1" y="619" font-size="12" fill="#444" text-anchor="middle">Aug</text>
<rect x="1753" y="55" width="4" height="1" fill="#888" shape-rendering="crispEdges"/>
<text x="1762.4" y="57.8" font-size="12" fill="#8e8e8e">20,000</text>
<rect x="1753" y="95" width="4" height="1" fill="#888" shape-rendering="crispEdges"/>
<text x="1762.4" y="97.8" font-size="12" fill="#8e8e8e">18,750</text>
<rect x="1753" y="137" width="4" height="1" fill="#888" shape-rendering="crispEdges"/>
<text x="1762.4" y="139.8" font-size="12" fill="#8e8e8e">17,500</text>
<rect x="1753" y="182" width="4" height="1" fill="#888" shape-rendering="crispEdges"/>
<text x="1762.4" y="184.8" font-size="12" fill="#8e8e8e">16,250</text>
<rect x="1753" y="231" width="4" height="1" fill="#888" shape-rendering="crispEdges"/>
<text x="1762.4" y="233.8" font-size="12" fill="#8e8e8e">15,000</text>
<rect x="1753" y="285" width="4" height="1" fill="#888" shape-rendering="crispEdges"/>
<text x="1762.4" y="287.8" font-size="12" fill="#8e8e8e">13,750</text>
<rect x="1753" y="343" width="4" height="1" fill="#888" shape-rendering="crispEdges"/>
<text x="1762.4" y="345.8" font-size="12" fill="#8e8e8e">12,500</text>
<rect x="1753" y="408" width="4" height="1" fill="#888" shape-rendering="crispEdges"/>
<text x="1762.4" y="410.8" font-size="12" fill="#8e8e8e">11,250</text>
<rect x="1753" y="480" width="4" height="1" fill="#888" shape-rendering="crispEdges"/>
<text x="1762.4" y="482.8" font-size="12" fill="#8e8e8e">10,000</text>
<rect x="1753" y="511" width="4" height="1" fill="#888" shape-rendering="crispEdges"/>
<text x="1762.4" y="513.8" font-size="12" fill="#8e8e8e">9,500</text>
<rect x="1753" y="544" width="4" height="1" fill="#888" shape-rendering="crispEdges"/>
<text x="1762.4" y="546.8" font-size="12" fill="#8e8e8e">9,000</text>
<rect x="1753" y="579" width="4" height="1" fill="#888" shape-rendering="crispEdges"/>
<text x="1762.4" y="581.8" font-size="12" fill="#8e8e8e">8,500</text>
<rect x="1753" y="617" width="4" height="1" fill="#888" shape-rendering="crispEdges"/>
<text x="1762.4" y="619.8" font-size="12" fill="#8e8e8e">8,000</text>
<clipPath id="cv"><rect x="1753" y="629" width="60" height="68"/></clipPath>
<rect x="1753" y="631" width="4" height="1" fill="#888" shape-rendering="crispEdges"/>
<text x="1762.4" y="633.8" font-size="12" fill="#8e8e8e" clip-path="url(#cv)">40,00M</text>
<rect x="1753" y="647" width="4" height="1" fill="#888" shape-rendering="crispEdges"/>
<text x="1762.4" y="649.8" font-size="12" fill="#8e8e8e" clip-path="url(#cv)">30,00M</text>
<rect x="1753" y="664" width="4" height="1" fill="#888" shape-rendering="crispEdges"/>
<text x="1762.4" y="666.8" font-size="12" fill="#8e8e8e" clip-path="url(#cv)">20,00M</text>
<rect x="1753" y="680" width="4" height="1" fill="#888" shape-rendering="crispEdges"/>
<text x="1762.4" y="682.8" font-size="12" fill="#8e8e8e" clip-path="url(#cv)">10,00M</text>
<rect x="1753" y="715" width="4" height="1" fill="#888" shape-rendering="crispEdges"/>
<text x="1762.4" y="717.8" font-size="12" fill="#8e8e8e">1,000</text>
<rect x="1753" y="772" width="4" height="1" fill="#888" shape-rendering="crispEdges"/>
<text x="1762.4" y="774.8" font-size="12" fill="#8e8e8e">0,000</text>
<rect x="1753" y="828" width="4" height="1" fill="#888" shape-rendering="crispEdges"/>
<text x="1762.4" y="830.8" font-size="12" fill="#8e8e8e">-1,000</text>
<polygon points="1752,306.5 1760.3,297 1805,297 1805,316 1760.3,316" fill="#6bbf38"/>
<text x="1763" y="310" font-size="12" fill="#12300a">13,290</text>
<g fill="none" stroke="#69be42" stroke-width="1.15"><path d="M3.5 12v3.8M7.5 5.2v4M7.5 14v1.8M11.5 7.3v4"/><rect x="2.5" y="7.5" width="2" height="4.2" rx=".9"/><rect x="6.5" y="9.3" width="2" height="4.4" rx=".9"/><rect x="10.5" y="11.4" width="2" height="4" rx=".9"/></g>
<text x="19" y="14" font-size="11" fill="#65bb3e" stroke="#65bb3e" stroke-width="0.5" xml:space="preserve">Immatics N.V. Namensaktie  o.N. (Nasdaq, Last)  O: 12,660  H: 13,450  L: 12,620  C: 13,290</text>
<g fill="none" stroke="#4c4c4c" stroke-width="1.15"><circle cx="8.4" cy="26.4" r="5.05"/><path d="M8.5 23.4v3l2.1 2"/></g>
<text x="19" y="29.6" font-size="11" fill="#3a3a3a" xml:space="preserve">22.04.2020 - 31.08.2021   (EDT, 1 Jahr, 1 Tag)</text>
<rect x="1" y="634" width="169" height="14" fill="#fff" fill-opacity="0.9"/>
<g fill="#1f7d1f"><rect x="3.1" y="640" width="2.7" height="5.7"/><rect x="7.2" y="637.2" width="2.7" height="8.5"/><rect x="11.2" y="642.2" width="2.7" height="3.5"/></g>
<text x="19" y="645" font-size="11" xml:space="preserve"><tspan fill="#2b822b" stroke="#2b822b" stroke-width="0.3">Volume(28)  100,36k  </tspan><tspan fill="#2a9fd0" stroke="#2a9fd0" stroke-width="0.3">118,67k</tspan></text>
<rect x="1" y="705.3" width="205.5" height="14.7" fill="#fff" fill-opacity="0.85"/>
<rect x="5" y="712" width="8" height="3" fill="#5d5884"/>
<text x="19" y="715.6" font-size="11" xml:space="preserve"><tspan fill="#5d5884" stroke="#5d5884" stroke-width="0.15">MACD(12, 26, 9)  0,143  </tspan><tspan fill="#96367a" stroke="#96367a" stroke-width="0.15">0,031  </tspan><tspan fill="#a6c3e3" stroke="#a6c3e3" stroke-width="0.15">0,112</tspan></text>
</svg>
</body></html>
